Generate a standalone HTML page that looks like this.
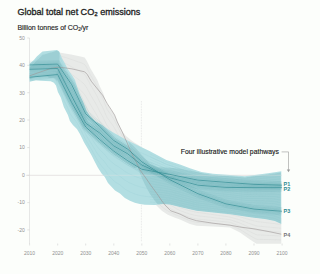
<!DOCTYPE html>
<html><head><meta charset="utf-8">
<style>
html,body{margin:0;padding:0;background:#fcfefb;}
body{width:303px;height:274px;overflow:hidden;}
svg{display:block;}
text{font-family:"Liberation Sans",sans-serif;}
.tk{font-size:5px;fill:#909090;}
</style></head><body>
<svg width="303" height="274" viewBox="0 0 303 274">
<text x="17.4" y="14.9" font-size="9.1" fill="#1e1e1e" stroke="#1e1e1e" stroke-width="0.32" textLength="123" lengthAdjust="spacing">Global total net CO₂ emissions</text>
<text x="17.4" y="29.6" font-size="7.0" fill="#1e1e1e" stroke="#1e1e1e" stroke-width="0.14" textLength="71" lengthAdjust="spacing">Billion tonnes of CO<tspan font-size="4.6" dy="1.6">2</tspan><tspan dy="-1.6">/yr</tspan></text>
<line x1="29.5" y1="38" x2="29.5" y2="244" stroke="#dcdcdc" stroke-width="0.7"/>
<line x1="27.3" y1="38.0" x2="29.5" y2="38.0" stroke="#d0d0d0" stroke-width="0.6"/><text x="24.8" y="39.8" text-anchor="end" class="tk">50</text><line x1="27.3" y1="65.3" x2="29.5" y2="65.3" stroke="#d0d0d0" stroke-width="0.6"/><text x="24.8" y="67.1" text-anchor="end" class="tk">40</text><line x1="27.3" y1="92.7" x2="29.5" y2="92.7" stroke="#d0d0d0" stroke-width="0.6"/><text x="24.8" y="94.5" text-anchor="end" class="tk">30</text><line x1="27.3" y1="120.0" x2="29.5" y2="120.0" stroke="#d0d0d0" stroke-width="0.6"/><text x="24.8" y="121.8" text-anchor="end" class="tk">20</text><line x1="27.3" y1="147.6" x2="29.5" y2="147.6" stroke="#d0d0d0" stroke-width="0.6"/><text x="24.8" y="149.4" text-anchor="end" class="tk">10</text><line x1="27.3" y1="175.3" x2="29.5" y2="175.3" stroke="#d0d0d0" stroke-width="0.6"/><text x="24.8" y="177.10000000000002" text-anchor="end" class="tk">0</text><line x1="27.3" y1="202.6" x2="29.5" y2="202.6" stroke="#d0d0d0" stroke-width="0.6"/><text x="24.8" y="204.4" text-anchor="end" class="tk">-10</text><line x1="27.3" y1="229.9" x2="29.5" y2="229.9" stroke="#d0d0d0" stroke-width="0.6"/><text x="24.8" y="231.70000000000002" text-anchor="end" class="tk">-20</text><line x1="29.6" y1="243.5" x2="29.6" y2="245.5" stroke="#d0d0d0" stroke-width="0.6"/><text x="29.6" y="254.5" text-anchor="middle" class="tk">2010</text><line x1="57.7" y1="243.5" x2="57.7" y2="245.5" stroke="#d0d0d0" stroke-width="0.6"/><text x="57.7" y="254.5" text-anchor="middle" class="tk">2020</text><line x1="85.7" y1="243.5" x2="85.7" y2="245.5" stroke="#d0d0d0" stroke-width="0.6"/><text x="85.7" y="254.5" text-anchor="middle" class="tk">2030</text><line x1="113.8" y1="243.5" x2="113.8" y2="245.5" stroke="#d0d0d0" stroke-width="0.6"/><text x="113.8" y="254.5" text-anchor="middle" class="tk">2040</text><line x1="141.8" y1="243.5" x2="141.8" y2="245.5" stroke="#d0d0d0" stroke-width="0.6"/><text x="141.8" y="254.5" text-anchor="middle" class="tk">2050</text><line x1="169.8" y1="243.5" x2="169.8" y2="245.5" stroke="#d0d0d0" stroke-width="0.6"/><text x="169.8" y="254.5" text-anchor="middle" class="tk">2060</text><line x1="197.9" y1="243.5" x2="197.9" y2="245.5" stroke="#d0d0d0" stroke-width="0.6"/><text x="197.9" y="254.5" text-anchor="middle" class="tk">2070</text><line x1="225.9" y1="243.5" x2="225.9" y2="245.5" stroke="#d0d0d0" stroke-width="0.6"/><text x="225.9" y="254.5" text-anchor="middle" class="tk">2080</text><line x1="254.0" y1="243.5" x2="254.0" y2="245.5" stroke="#d0d0d0" stroke-width="0.6"/><text x="254.0" y="254.5" text-anchor="middle" class="tk">2090</text><line x1="282.1" y1="243.5" x2="282.1" y2="245.5" stroke="#d0d0d0" stroke-width="0.6"/><text x="282.1" y="254.5" text-anchor="middle" class="tk">2100</text>
<line x1="141.4" y1="101" x2="141.4" y2="242" stroke="#d8d8d8" stroke-width="0.6" stroke-dasharray="0.8,0.8"/>
<line x1="26" y1="175.3" x2="281.5" y2="175.3" stroke="#ddd6d6" stroke-width="0.6"/>
<polygon points="29.50,64.00 57.65,52.20 71.10,54.60 81.70,56.70 84.60,57.60 86.60,60.60 88.60,64.50 90.20,68.00 97.30,80.00 99.90,86.60 103.20,93.20 106.60,103.20 110.60,109.20 113.90,114.00 117.30,121.20 122.00,131.30 126.00,136.00 129.90,139.20 133.90,142.20 138.50,144.90 145.00,150.00 157.00,180.00 180.00,200.00 230.00,210.00 281.30,218.00 281.30,243.70 256.50,243.70 249.90,239.60 240.00,232.50 230.00,227.60 213.00,226.60 196.50,225.70 189.90,224.00 180.00,219.40 175.00,217.80 167.80,214.80 161.80,210.80 156.00,205.00 140.00,195.00 100.00,150.00 60.00,84.00 29.50,74.00" fill="#e8eae8"/>
<polyline points="57.7,55.3 59.2,55.6 60.7,56.0 62.2,56.5 63.7,57.0 65.2,57.5 66.7,57.9 68.2,58.4 69.7,58.9 71.2,59.4 72.7,59.9 74.2,60.4 75.7,61.0 77.2,61.5 78.7,62.0 80.2,62.5 81.7,63.0 83.2,63.7 84.7,64.5 86.2,66.7 87.7,69.4 89.2,72.4 90.7,75.4 92.2,78.0 93.7,80.5 95.2,83.0 96.7,85.5 98.2,88.8 99.7,92.4 101.2,95.4 102.7,98.3 104.2,102.0 105.7,106.1 107.2,109.5 108.7,111.7 110.2,113.9 111.7,116.0 113.2,118.2 114.7,120.8 116.2,123.8 117.7,126.8 119.2,129.9 120.7,133.0 122.2,135.9 123.7,137.6 125.2,139.4 126.7,140.9 128.2,142.2 129.7,143.5 131.2,144.7 132.7,145.8 134.2,147.0 135.7,147.9 137.2,148.9 138.7,149.9 140.2,151.1 141.7,152.3 143.2,153.4 144.7,154.6 146.2,157.6 147.7,161.1 149.2,164.5 150.7,168.0 152.2,171.5 153.7,174.9 155.2,178.4 156.7,181.9 158.2,183.7 159.7,185.0 161.2,186.3 162.7,187.6 164.2,188.9 165.7,190.1 167.2,191.4 168.7,192.7 170.2,193.9 171.7,195.1 173.2,196.4 174.7,197.6 176.2,198.8 177.7,200.1 179.2,201.3 180.7,202.1 182.2,202.4 183.7,202.8 185.2,203.1 186.7,203.5 188.2,203.8 189.7,204.1 191.2,204.4 192.7,204.8 194.2,205.1 195.7,205.4 197.2,205.7 198.7,205.9 200.2,206.2 201.7,206.5 203.2,206.8 204.7,207.1 206.2,207.3 207.7,207.6 209.2,207.9 210.7,208.2 212.2,208.5 213.7,208.7 215.2,209.0 216.7,209.3 218.2,209.6 219.7,209.8 221.2,210.1 222.7,210.4 224.2,210.7 225.7,211.0 227.2,211.2 228.7,211.5 230.2,211.8 231.7,212.1 233.2,212.4 234.7,212.6 236.2,212.9 237.7,213.2 239.2,213.5 240.7,213.8 242.2,214.1 243.7,214.4 245.2,214.8 246.7,215.1 248.2,215.4 249.7,215.7 251.2,216.0 252.7,216.3 254.2,216.6 255.7,216.9 257.2,217.2 258.7,217.4 260.2,217.6 261.7,217.8 263.2,218.0 264.7,218.2 266.2,218.5 267.7,218.7 269.2,218.9 270.7,219.1 272.2,219.3 273.7,219.5 275.2,219.7 276.7,219.9 278.2,220.1 279.7,220.3 281.2,220.6" fill="none" stroke="#b0b0b0" stroke-opacity="0.22" stroke-width="0.5"/><polyline points="57.7,60.0 59.2,60.3 60.7,60.8 62.2,61.7 63.7,62.5 65.2,63.3 66.7,64.1 68.2,64.9 69.7,65.8 71.2,66.6 72.7,67.4 74.2,68.3 75.7,69.1 77.2,70.0 78.7,70.8 80.2,71.6 81.7,72.5 83.2,73.4 84.7,74.5 86.2,76.8 87.7,79.5 89.2,82.4 90.7,85.3 92.2,87.8 93.7,90.3 95.2,92.9 96.7,95.4 98.2,98.5 99.7,101.9 101.2,104.7 102.7,107.4 104.2,110.8 105.7,114.5 107.2,117.6 108.7,119.7 110.2,121.8 111.7,123.9 113.2,125.9 114.7,128.4 116.2,131.2 117.7,134.0 119.2,136.9 120.7,139.7 122.2,142.4 123.7,144.1 125.2,145.9 126.7,147.4 128.2,148.8 129.7,150.1 131.2,151.4 132.7,152.7 134.2,153.9 135.7,155.0 137.2,156.1 138.7,157.2 140.2,158.5 141.7,159.6 143.2,160.7 144.7,161.8 146.2,164.5 147.7,167.5 149.2,170.6 150.7,173.6 152.2,176.7 153.7,179.7 155.2,182.7 156.7,185.9 158.2,187.6 159.7,188.9 161.2,190.3 162.7,191.6 164.2,192.8 165.7,194.0 167.2,195.3 168.7,196.4 170.2,197.6 171.7,198.7 173.2,199.8 174.7,201.0 176.2,202.1 177.7,203.2 179.2,204.3 180.7,205.0 182.2,205.4 183.7,205.8 185.2,206.2 186.7,206.6 188.2,207.0 189.7,207.4 191.2,207.8 192.7,208.1 194.2,208.4 195.7,208.7 197.2,209.0 198.7,209.3 200.2,209.5 201.7,209.8 203.2,210.0 204.7,210.2 206.2,210.5 207.7,210.7 209.2,211.0 210.7,211.2 212.2,211.5 213.7,211.7 215.2,212.0 216.7,212.2 218.2,212.5 219.7,212.7 221.2,213.0 222.7,213.2 224.2,213.4 225.7,213.7 227.2,213.9 228.7,214.2 230.2,214.4 231.7,214.8 233.2,215.2 234.7,215.5 236.2,215.9 237.7,216.2 239.2,216.6 240.7,217.0 242.2,217.4 243.7,217.9 245.2,218.3 246.7,218.8 248.2,219.2 249.7,219.7 251.2,220.1 252.7,220.5 254.2,220.9 255.7,221.3 257.2,221.6 258.7,221.8 260.2,222.0 261.7,222.1 263.2,222.3 264.7,222.5 266.2,222.7 267.7,222.8 269.2,223.0 270.7,223.2 272.2,223.4 273.7,223.5 275.2,223.7 276.7,223.9 278.2,224.1 279.7,224.2 281.2,224.4" fill="none" stroke="#b0b0b0" stroke-opacity="0.22" stroke-width="0.5"/><polyline points="57.7,64.6 59.2,65.0 60.7,65.7 62.2,66.9 63.7,68.0 65.2,69.2 66.7,70.3 68.2,71.5 69.7,72.6 71.2,73.8 72.7,74.9 74.2,76.1 75.7,77.3 77.2,78.4 78.7,79.6 80.2,80.8 81.7,81.9 83.2,83.2 84.7,84.6 86.2,86.9 87.7,89.5 89.2,92.4 90.7,95.2 92.2,97.7 93.7,100.2 95.2,102.7 96.7,105.2 98.2,108.2 99.7,111.5 101.2,114.1 102.7,116.5 104.2,119.6 105.7,122.9 107.2,125.7 108.7,127.7 110.2,129.8 111.7,131.7 113.2,133.7 114.7,136.0 116.2,138.6 117.7,141.2 119.2,143.8 120.7,146.4 122.2,148.9 123.7,150.6 125.2,152.4 126.7,154.0 128.2,155.4 129.7,156.8 131.2,158.1 132.7,159.5 134.2,160.8 135.7,162.0 137.2,163.2 138.7,164.4 140.2,165.8 141.7,166.9 143.2,168.0 144.7,169.0 146.2,171.3 147.7,174.0 149.2,176.6 150.7,179.2 152.2,181.8 153.7,184.5 155.2,187.1 156.7,189.8 158.2,191.5 159.7,192.9 161.2,194.3 162.7,195.5 164.2,196.7 165.7,197.9 167.2,199.1 168.7,200.2 170.2,201.2 171.7,202.2 173.2,203.3 174.7,204.3 176.2,205.3 177.7,206.3 179.2,207.2 180.7,208.0 182.2,208.4 183.7,208.9 185.2,209.4 186.7,209.8 188.2,210.3 189.7,210.7 191.2,211.1 192.7,211.4 194.2,211.7 195.7,212.1 197.2,212.4 198.7,212.6 200.2,212.8 201.7,213.0 203.2,213.2 204.7,213.4 206.2,213.6 207.7,213.8 209.2,214.1 210.7,214.3 212.2,214.5 213.7,214.7 215.2,214.9 216.7,215.1 218.2,215.3 219.7,215.6 221.2,215.8 222.7,216.0 224.2,216.2 225.7,216.4 227.2,216.6 228.7,216.9 230.2,217.1 231.7,217.5 233.2,218.0 234.7,218.4 236.2,218.8 237.7,219.3 239.2,219.7 240.7,220.2 242.2,220.8 243.7,221.3 245.2,221.9 246.7,222.5 248.2,223.1 249.7,223.6 251.2,224.1 252.7,224.7 254.2,225.2 255.7,225.7 257.2,226.0 258.7,226.2 260.2,226.3 261.7,226.4 263.2,226.6 264.7,226.7 266.2,226.9 267.7,227.0 269.2,227.1 270.7,227.3 272.2,227.4 273.7,227.6 275.2,227.7 276.7,227.8 278.2,228.0 279.7,228.1 281.2,228.3" fill="none" stroke="#b0b0b0" stroke-opacity="0.22" stroke-width="0.5"/><polyline points="57.7,69.3 59.2,69.7 60.7,70.6 62.2,72.1 63.7,73.5 65.2,75.0 66.7,76.5 68.2,78.0 69.7,79.5 71.2,80.9 72.7,82.4 74.2,83.9 75.7,85.4 77.2,86.9 78.7,88.4 80.2,89.9 81.7,91.4 83.2,93.0 84.7,94.6 86.2,97.0 87.7,99.6 89.2,102.3 90.7,105.0 92.2,107.5 93.7,110.0 95.2,112.5 96.7,115.0 98.2,117.9 99.7,121.0 101.2,123.4 102.7,125.7 104.2,128.4 105.7,131.3 107.2,133.8 108.7,135.7 110.2,137.7 111.7,139.6 113.2,141.5 114.7,143.7 116.2,146.0 117.7,148.4 119.2,150.8 120.7,153.1 122.2,155.4 123.7,157.1 125.2,158.9 126.7,160.5 128.2,162.0 129.7,163.4 131.2,164.9 132.7,166.3 134.2,167.7 135.7,169.1 137.2,170.4 138.7,171.7 140.2,173.1 141.7,174.2 143.2,175.2 144.7,176.3 146.2,178.2 147.7,180.4 149.2,182.6 150.7,184.8 152.2,187.0 153.7,189.2 155.2,191.4 156.7,193.8 158.2,195.4 159.7,196.8 161.2,198.3 162.7,199.5 164.2,200.6 165.7,201.8 167.2,202.9 168.7,203.9 170.2,204.9 171.7,205.8 173.2,206.7 174.7,207.6 176.2,208.5 177.7,209.4 179.2,210.2 180.7,210.9 182.2,211.4 183.7,211.9 185.2,212.5 186.7,213.0 188.2,213.5 189.7,214.0 191.2,214.4 192.7,214.7 194.2,215.1 195.7,215.4 197.2,215.7 198.7,215.9 200.2,216.1 201.7,216.2 203.2,216.4 204.7,216.6 206.2,216.8 207.7,217.0 209.2,217.1 210.7,217.3 212.2,217.5 213.7,217.7 215.2,217.9 216.7,218.1 218.2,218.2 219.7,218.4 221.2,218.6 222.7,218.8 224.2,219.0 225.7,219.2 227.2,219.3 228.7,219.5 230.2,219.7 231.7,220.3 233.2,220.8 234.7,221.3 236.2,221.8 237.7,222.3 239.2,222.8 240.7,223.4 242.2,224.1 243.7,224.8 245.2,225.5 246.7,226.2 248.2,226.9 249.7,227.6 251.2,228.2 252.7,228.8 254.2,229.4 255.7,230.1 257.2,230.4 258.7,230.5 260.2,230.7 261.7,230.8 263.2,230.9 264.7,231.0 266.2,231.1 267.7,231.2 269.2,231.3 270.7,231.4 272.2,231.5 273.7,231.6 275.2,231.7 276.7,231.8 278.2,231.9 279.7,232.0 281.2,232.1" fill="none" stroke="#b0b0b0" stroke-opacity="0.22" stroke-width="0.5"/><polyline points="57.7,73.9 59.2,74.4 60.7,75.4 62.2,77.2 63.7,79.1 65.2,80.9 66.7,82.7 68.2,84.5 69.7,86.3 71.2,88.1 72.7,89.9 74.2,91.8 75.7,93.6 77.2,95.4 78.7,97.2 80.2,99.1 81.7,100.9 83.2,102.7 84.7,104.7 86.2,107.1 87.7,109.6 89.2,112.3 90.7,114.9 92.2,117.4 93.7,119.9 95.2,122.4 96.7,124.9 98.2,127.6 99.7,130.5 101.2,132.7 102.7,134.8 104.2,137.1 105.7,139.7 107.2,141.9 108.7,143.8 110.2,145.6 111.7,147.5 113.2,149.3 114.7,151.3 116.2,153.4 117.7,155.6 119.2,157.7 120.7,159.9 122.2,161.9 123.7,163.7 125.2,165.4 126.7,167.0 128.2,168.5 129.7,170.1 131.2,171.6 132.7,173.1 134.2,174.6 135.7,176.1 137.2,177.5 138.7,179.0 140.2,180.5 141.7,181.5 143.2,182.5 144.7,183.5 146.2,185.1 147.7,186.9 149.2,188.7 150.7,190.5 152.2,192.2 153.7,194.0 155.2,195.8 156.7,197.8 158.2,199.4 159.7,200.8 161.2,202.2 162.7,203.5 164.2,204.6 165.7,205.6 167.2,206.7 168.7,207.7 170.2,208.5 171.7,209.3 173.2,210.2 174.7,211.0 176.2,211.7 177.7,212.5 179.2,213.2 180.7,213.8 182.2,214.4 183.7,215.0 185.2,215.6 186.7,216.2 188.2,216.7 189.7,217.3 191.2,217.7 192.7,218.1 194.2,218.4 195.7,218.8 197.2,219.0 198.7,219.2 200.2,219.3 201.7,219.5 203.2,219.6 204.7,219.8 206.2,219.9 207.7,220.1 209.2,220.2 210.7,220.4 212.2,220.5 213.7,220.7 215.2,220.8 216.7,221.0 218.2,221.1 219.7,221.3 221.2,221.4 222.7,221.6 224.2,221.7 225.7,221.9 227.2,222.0 228.7,222.2 230.2,222.4 231.7,223.0 233.2,223.6 234.7,224.2 236.2,224.7 237.7,225.3 239.2,225.9 240.7,226.6 242.2,227.4 243.7,228.2 245.2,229.1 246.7,229.9 248.2,230.7 249.7,231.5 251.2,232.3 252.7,233.0 254.2,233.7 255.7,234.4 257.2,234.9 258.7,234.9 260.2,235.0 261.7,235.1 263.2,235.1 264.7,235.2 266.2,235.3 267.7,235.4 269.2,235.4 270.7,235.5 272.2,235.6 273.7,235.6 275.2,235.7 276.7,235.8 278.2,235.8 279.7,235.9 281.2,236.0" fill="none" stroke="#b0b0b0" stroke-opacity="0.22" stroke-width="0.5"/><polyline points="57.7,78.6 59.2,79.0 60.7,80.3 62.2,82.4 63.7,84.6 65.2,86.7 66.7,88.9 68.2,91.0 69.7,93.2 71.2,95.3 72.7,97.4 74.2,99.6 75.7,101.7 77.2,103.9 78.7,106.0 80.2,108.2 81.7,110.3 83.2,112.5 84.7,114.7 86.2,117.1 87.7,119.7 89.2,122.2 90.7,124.8 92.2,127.3 93.7,129.8 95.2,132.2 96.7,134.7 98.2,137.3 99.7,140.0 101.2,142.0 102.7,143.9 104.2,145.9 105.7,148.0 107.2,150.0 108.7,151.8 110.2,153.5 111.7,155.3 113.2,157.1 114.7,158.9 116.2,160.8 117.7,162.7 119.2,164.7 120.7,166.6 122.2,168.5 123.7,170.2 125.2,171.9 126.7,173.5 128.2,175.1 129.7,176.8 131.2,178.4 132.7,180.0 134.2,181.6 135.7,183.1 137.2,184.7 138.7,186.3 140.2,187.8 141.7,188.8 143.2,189.7 144.7,190.7 146.2,192.0 147.7,193.4 149.2,194.7 150.7,196.1 152.2,197.4 153.7,198.8 155.2,200.2 156.7,201.7 158.2,203.3 159.7,204.7 161.2,206.2 162.7,207.4 164.2,208.5 165.7,209.5 167.2,210.6 168.7,211.4 170.2,212.2 171.7,212.9 173.2,213.6 174.7,214.3 176.2,215.0 177.7,215.6 179.2,216.2 180.7,216.8 182.2,217.4 183.7,218.1 185.2,218.7 186.7,219.3 188.2,220.0 189.7,220.6 191.2,221.0 192.7,221.4 194.2,221.8 195.7,222.1 197.2,222.4 198.7,222.5 200.2,222.6 201.7,222.7 203.2,222.9 204.7,223.0 206.2,223.1 207.7,223.2 209.2,223.3 210.7,223.4 212.2,223.5 213.7,223.7 215.2,223.8 216.7,223.9 218.2,224.0 219.7,224.1 221.2,224.3 222.7,224.4 224.2,224.5 225.7,224.6 227.2,224.7 228.7,224.9 230.2,225.0 231.7,225.7 233.2,226.4 234.7,227.0 236.2,227.7 237.7,228.3 239.2,229.0 240.7,229.8 242.2,230.8 243.7,231.7 245.2,232.7 246.7,233.6 248.2,234.5 249.7,235.5 251.2,236.3 252.7,237.2 254.2,238.0 255.7,238.8 257.2,239.3 258.7,239.3 260.2,239.4 261.7,239.4 263.2,239.4 264.7,239.5 266.2,239.5 267.7,239.5 269.2,239.6 270.7,239.6 272.2,239.6 273.7,239.7 275.2,239.7 276.7,239.7 278.2,239.8 279.7,239.8 281.2,239.8" fill="none" stroke="#b0b0b0" stroke-opacity="0.22" stroke-width="0.5"/>
<polygon points="29.50,64.00 33.90,60.00 36.80,56.50 42.50,51.60 57.00,49.90 59.20,51.60 61.90,58.00 65.20,63.90 67.80,69.20 72.00,75.20 75.00,80.00 77.50,88.00 79.50,94.00 83.20,101.90 86.30,110.50 89.90,115.90 95.20,121.20 102.00,125.00 107.90,129.30 114.50,133.20 118.60,135.50 125.20,139.30 131.90,142.50 138.50,145.80 143.20,148.00 150.00,151.30 153.20,153.00 166.40,159.90 180.00,164.50 189.90,168.30 201.50,172.00 213.00,173.80 230.00,175.00 244.90,176.30 254.80,174.90 268.00,173.20 281.30,171.20 281.30,223.90 274.80,220.90 264.90,219.00 252.00,217.50 230.00,214.20 213.00,212.40 196.50,210.80 180.00,207.00 169.90,204.60 162.80,204.00 154.90,204.90 145.00,204.80 139.80,204.10 134.80,202.80 129.90,200.80 124.90,197.90 120.00,193.40 115.00,190.40 108.00,183.00 104.80,177.00 101.80,173.80 97.90,167.80 94.90,161.90 91.90,155.90 88.50,150.00 83.80,142.00 82.80,139.80 79.80,133.80 76.90,128.90 72.90,124.90 69.90,120.90 67.90,115.00 63.80,107.00 60.90,97.80 57.90,91.90 56.00,85.50 53.90,82.80 50.80,81.30 40.90,80.80 35.90,80.30 29.50,81.80" fill="#b2dee2"/>
<polyline points="29.5,65.8 31.0,64.5 32.5,63.3 34.0,62.0 35.5,60.3 37.0,58.7 38.5,57.6 40.0,56.4 41.5,55.3 43.0,54.5 44.5,54.3 46.0,54.2 47.5,54.0 49.0,53.9 50.5,53.7 52.0,53.6 53.5,53.5 55.0,53.5 56.5,53.7 58.0,54.8 59.5,56.6 61.0,60.1 62.5,63.5 64.0,66.3 65.5,69.1 67.0,72.1 68.5,74.9 70.0,77.2 71.5,79.3 73.0,81.6 74.5,83.9 76.0,87.7 77.5,92.2 79.0,96.5 80.5,100.0 82.0,103.2 83.5,106.6 85.0,110.6 86.5,114.4 88.0,116.7 89.5,118.9 91.0,120.7 92.5,122.4 94.0,124.0 95.5,125.5 97.0,126.6 98.5,127.6 100.0,128.6 101.5,129.6 103.0,130.7 104.5,131.8 106.0,133.0 107.5,134.3 109.0,135.4 110.5,136.3 112.0,137.3 113.5,138.2 115.0,139.2 116.5,140.0 118.0,140.9 119.5,141.7 121.0,142.6 122.5,143.5 124.0,144.5 125.5,145.3 127.0,146.1 128.5,146.8 130.0,147.5 131.5,148.2 133.0,149.0 134.5,149.7 136.0,150.4 137.5,151.1 139.0,151.8 140.5,152.5 142.0,153.1 143.5,153.8 145.0,154.5 146.5,155.1 148.0,155.8 149.5,156.4 151.0,157.1 152.5,157.9 154.0,158.6 155.5,159.3 157.0,160.0 158.5,160.6 160.0,161.3 161.5,162.0 163.0,162.7 164.5,163.4 166.0,164.1 167.5,164.7 169.0,165.2 170.5,165.6 172.0,166.1 173.5,166.6 175.0,167.1 176.5,167.6 178.0,168.1 179.5,168.6 181.0,169.1 182.5,169.7 184.0,170.2 185.5,170.8 187.0,171.3 188.5,171.9 190.0,172.4 191.5,172.9 193.0,173.4 194.5,173.8 196.0,174.3 197.5,174.7 199.0,175.2 200.5,175.6 202.0,176.0 203.5,176.2 205.0,176.5 206.5,176.7 208.0,176.9 209.5,177.1 211.0,177.4 212.5,177.6 214.0,177.7 215.5,177.8 217.0,178.0 218.5,178.1 220.0,178.2 221.5,178.3 223.0,178.4 224.5,178.5 226.0,178.6 227.5,178.7 229.0,178.8 230.5,179.0 232.0,179.1 233.5,179.2 235.0,179.4 236.5,179.5 238.0,179.7 239.5,179.8 241.0,179.9 242.5,180.1 244.0,180.2 245.5,180.2 247.0,180.1 248.5,179.9 250.0,179.7 251.5,179.6 253.0,179.4 254.5,179.2 256.0,179.1 257.5,178.9 259.0,178.8 260.5,178.6 262.0,178.4 263.5,178.3 265.0,178.1 266.5,178.0 268.0,177.8 269.5,177.7 271.0,177.5 272.5,177.3 274.0,177.1 275.5,177.0 277.0,176.9 278.5,176.7 280.0,176.6" fill="none" stroke="#3f9aa3" stroke-opacity="0.12" stroke-width="0.5"/><polyline points="29.5,67.6 31.0,66.4 32.5,65.2 34.0,64.1 35.5,62.5 37.0,61.1 38.5,60.1 40.0,59.1 41.5,58.1 43.0,57.4 44.5,57.3 46.0,57.2 47.5,57.0 49.0,56.9 50.5,56.8 52.0,56.8 53.5,56.8 55.0,57.0 56.5,57.4 58.0,59.0 59.5,60.9 61.0,64.3 62.5,67.8 64.0,70.9 65.5,73.7 67.0,76.7 68.5,79.5 70.0,82.1 71.5,84.2 73.0,86.4 74.5,88.7 76.0,92.2 77.5,96.4 79.0,100.5 80.5,103.9 82.0,107.1 83.5,110.5 85.0,114.3 86.5,118.0 88.0,120.3 89.5,122.6 91.0,124.5 92.5,126.2 94.0,128.0 95.5,129.7 97.0,131.0 98.5,132.2 100.0,133.3 101.5,134.4 103.0,135.6 104.5,136.8 106.0,138.2 107.5,139.6 109.0,140.8 110.5,141.8 112.0,142.8 113.5,143.9 115.0,144.9 116.5,145.7 118.0,146.6 119.5,147.4 121.0,148.4 122.5,149.3 124.0,150.3 125.5,151.2 127.0,152.0 128.5,152.7 130.0,153.4 131.5,154.1 133.0,154.9 134.5,155.6 136.0,156.3 137.5,156.9 139.0,157.6 140.5,158.2 142.0,158.8 143.5,159.4 145.0,160.1 146.5,160.6 148.0,161.2 149.5,161.8 151.0,162.4 152.5,163.1 154.0,163.7 155.5,164.3 157.0,164.9 158.5,165.5 160.0,166.1 161.5,166.7 163.0,167.3 164.5,168.0 166.0,168.6 167.5,169.1 169.0,169.5 170.5,170.0 172.0,170.5 173.5,170.9 175.0,171.4 176.5,171.9 178.0,172.4 179.5,172.8 181.0,173.4 182.5,173.9 184.0,174.4 185.5,174.9 187.0,175.5 188.5,176.0 190.0,176.5 191.5,177.0 193.0,177.4 194.5,177.9 196.0,178.3 197.5,178.8 199.0,179.2 200.5,179.6 202.0,179.9 203.5,180.1 205.0,180.4 206.5,180.6 208.0,180.8 209.5,181.0 211.0,181.2 212.5,181.4 214.0,181.6 215.5,181.7 217.0,181.8 218.5,181.9 220.0,182.1 221.5,182.2 223.0,182.3 224.5,182.4 226.0,182.5 227.5,182.6 229.0,182.8 230.5,182.9 232.0,183.0 233.5,183.2 235.0,183.3 236.5,183.5 238.0,183.6 239.5,183.8 241.0,183.9 242.5,184.1 244.0,184.2 245.5,184.3 247.0,184.2 248.5,184.0 250.0,183.9 251.5,183.8 253.0,183.6 254.5,183.5 256.0,183.4 257.5,183.3 259.0,183.2 260.5,183.0 262.0,182.9 263.5,182.8 265.0,182.7 266.5,182.6 268.0,182.5 269.5,182.4 271.0,182.2 272.5,182.1 274.0,182.0 275.5,181.9 277.0,181.9 278.5,181.8 280.0,181.8" fill="none" stroke="#3f9aa3" stroke-opacity="0.12" stroke-width="0.5"/><polyline points="29.5,69.3 31.0,68.3 32.5,67.2 34.0,66.1 35.5,64.8 37.0,63.6 38.5,62.7 40.0,61.8 41.5,61.0 43.0,60.4 44.5,60.3 46.0,60.2 47.5,60.0 49.0,59.9 50.5,59.8 52.0,59.9 53.5,60.0 55.0,60.4 56.5,61.1 58.0,63.1 59.5,65.1 61.0,68.5 62.5,72.2 64.0,75.4 65.5,78.3 67.0,81.3 68.5,84.2 70.0,87.0 71.5,89.1 73.0,91.3 74.5,93.4 76.0,96.6 77.5,100.6 79.0,104.5 80.5,107.9 82.0,111.0 83.5,114.3 85.0,118.0 86.5,121.5 88.0,123.9 89.5,126.2 91.0,128.2 92.5,130.1 94.0,132.0 95.5,133.9 97.0,135.4 98.5,136.7 100.0,138.0 101.5,139.3 103.0,140.5 104.5,141.8 106.0,143.3 107.5,144.9 109.0,146.2 110.5,147.3 112.0,148.4 113.5,149.5 115.0,150.6 116.5,151.4 118.0,152.3 119.5,153.1 121.0,154.1 122.5,155.1 124.0,156.1 125.5,157.1 127.0,157.8 128.5,158.6 130.0,159.4 131.5,160.1 133.0,160.8 134.5,161.5 136.0,162.1 137.5,162.8 139.0,163.4 140.5,164.0 142.0,164.5 143.5,165.1 145.0,165.7 146.5,166.2 148.0,166.7 149.5,167.2 151.0,167.7 152.5,168.3 154.0,168.9 155.5,169.4 157.0,169.9 158.5,170.4 160.0,170.9 161.5,171.4 163.0,171.9 164.5,172.5 166.0,173.1 167.5,173.5 169.0,173.9 170.5,174.3 172.0,174.8 173.5,175.2 175.0,175.7 176.5,176.2 178.0,176.6 179.5,177.1 181.0,177.6 182.5,178.1 184.0,178.6 185.5,179.1 187.0,179.6 188.5,180.1 190.0,180.6 191.5,181.1 193.0,181.5 194.5,181.9 196.0,182.4 197.5,182.8 199.0,183.2 200.5,183.5 202.0,183.9 203.5,184.1 205.0,184.3 206.5,184.5 208.0,184.7 209.5,184.9 211.0,185.1 212.5,185.3 214.0,185.5 215.5,185.6 217.0,185.7 218.5,185.8 220.0,185.9 221.5,186.1 223.0,186.2 224.5,186.3 226.0,186.4 227.5,186.6 229.0,186.7 230.5,186.8 232.0,187.0 233.5,187.1 235.0,187.3 236.5,187.4 238.0,187.6 239.5,187.8 241.0,187.9 242.5,188.1 244.0,188.2 245.5,188.3 247.0,188.2 248.5,188.1 250.0,188.1 251.5,188.0 253.0,187.9 254.5,187.8 256.0,187.7 257.5,187.6 259.0,187.5 260.5,187.5 262.0,187.4 263.5,187.3 265.0,187.2 266.5,187.2 268.0,187.1 269.5,187.0 271.0,187.0 272.5,186.9 274.0,186.8 275.5,186.8 277.0,186.9 278.5,186.9 280.0,187.0" fill="none" stroke="#3f9aa3" stroke-opacity="0.12" stroke-width="0.5"/><polyline points="29.5,71.5 31.0,70.5 32.5,69.6 34.0,68.6 35.5,67.4 37.0,66.4 38.5,65.8 40.0,65.1 41.5,64.4 43.0,63.9 44.5,63.8 46.0,63.7 47.5,63.7 49.0,63.6 50.5,63.5 52.0,63.7 53.5,63.9 55.0,64.4 56.5,65.6 58.0,68.1 59.5,70.3 61.0,73.6 62.5,77.5 64.0,80.9 65.5,83.7 67.0,86.8 68.5,89.8 70.0,92.8 71.5,94.9 73.0,97.0 74.5,99.1 76.0,102.0 77.5,105.6 79.0,109.3 80.5,112.5 82.0,115.7 83.5,118.9 85.0,122.5 86.5,125.8 88.0,128.2 89.5,130.6 91.0,132.7 92.5,134.7 94.0,136.8 95.5,138.9 97.0,140.6 98.5,142.2 100.0,143.7 101.5,145.1 103.0,146.5 104.5,147.8 106.0,149.5 107.5,151.3 109.0,152.7 110.5,153.9 112.0,155.0 113.5,156.2 115.0,157.4 116.5,158.3 118.0,159.1 119.5,160.0 121.0,161.0 122.5,162.1 124.0,163.2 125.5,164.1 127.0,164.9 128.5,165.7 130.0,166.5 131.5,167.1 133.0,167.8 134.5,168.5 136.0,169.1 137.5,169.7 139.0,170.3 140.5,170.9 142.0,171.4 143.5,171.9 145.0,172.4 146.5,172.8 148.0,173.2 149.5,173.6 151.0,174.1 152.5,174.6 154.0,175.0 155.5,175.5 157.0,175.8 158.5,176.2 160.0,176.6 161.5,177.0 163.0,177.4 164.5,177.9 166.0,178.4 167.5,178.8 169.0,179.2 170.5,179.5 172.0,180.0 173.5,180.4 175.0,180.9 176.5,181.3 178.0,181.8 179.5,182.2 181.0,182.7 182.5,183.1 184.0,183.6 185.5,184.1 187.0,184.6 188.5,185.1 190.0,185.5 191.5,186.0 193.0,186.4 194.5,186.8 196.0,187.2 197.5,187.6 199.0,187.9 200.5,188.3 202.0,188.6 203.5,188.8 205.0,189.0 206.5,189.2 208.0,189.4 209.5,189.6 211.0,189.7 212.5,189.9 214.0,190.1 215.5,190.2 217.0,190.4 218.5,190.5 220.0,190.6 221.5,190.7 223.0,190.9 224.5,191.0 226.0,191.1 227.5,191.3 229.0,191.4 230.5,191.5 232.0,191.7 233.5,191.9 235.0,192.0 236.5,192.2 238.0,192.4 239.5,192.5 241.0,192.7 242.5,192.9 244.0,193.1 245.5,193.1 247.0,193.1 248.5,193.1 250.0,193.1 251.5,193.0 253.0,193.0 254.5,192.9 256.0,192.9 257.5,192.9 259.0,192.8 260.5,192.8 262.0,192.7 263.5,192.7 265.0,192.7 266.5,192.7 268.0,192.7 269.5,192.7 271.0,192.7 272.5,192.7 274.0,192.6 275.5,192.7 277.0,192.9 278.5,193.0 280.0,193.2" fill="none" stroke="#3f9aa3" stroke-opacity="0.12" stroke-width="0.5"/><polyline points="29.5,73.8 31.0,73.0 32.5,72.2 34.0,71.4 35.5,70.3 37.0,69.6 38.5,69.1 40.0,68.6 41.5,68.1 43.0,67.7 44.5,67.7 46.0,67.6 47.5,67.6 49.0,67.5 50.5,67.5 52.0,67.8 53.5,68.1 55.0,68.9 56.5,70.4 58.0,73.5 59.5,75.8 61.0,79.1 62.5,83.2 64.0,86.9 65.5,89.7 67.0,92.7 68.5,95.8 70.0,99.1 71.5,101.2 73.0,103.3 74.5,105.2 76.0,107.8 77.5,111.1 79.0,114.5 80.5,117.6 82.0,120.7 83.5,124.0 85.0,127.3 86.5,130.5 88.0,132.9 89.5,135.3 91.0,137.5 92.5,139.7 94.0,142.1 95.5,144.3 97.0,146.3 98.5,148.2 100.0,149.8 101.5,151.5 103.0,152.9 104.5,154.2 106.0,156.1 107.5,158.2 109.0,159.7 110.5,161.0 112.0,162.3 113.5,163.5 115.0,164.8 116.5,165.7 118.0,166.5 119.5,167.4 121.0,168.5 122.5,169.6 124.0,170.8 125.5,171.8 127.0,172.6 128.5,173.4 130.0,174.2 131.5,174.8 133.0,175.5 134.5,176.2 136.0,176.8 137.5,177.3 139.0,177.9 140.5,178.3 142.0,178.8 143.5,179.2 145.0,179.6 146.5,180.0 148.0,180.3 149.5,180.6 151.0,181.0 152.5,181.4 154.0,181.7 155.5,182.0 157.0,182.3 158.5,182.6 160.0,182.8 161.5,183.1 163.0,183.4 164.5,183.8 166.0,184.2 167.5,184.5 169.0,184.8 170.5,185.2 172.0,185.6 173.5,186.0 175.0,186.5 176.5,186.9 178.0,187.3 179.5,187.7 181.0,188.2 182.5,188.6 184.0,189.1 185.5,189.5 187.0,190.0 188.5,190.4 190.0,190.9 191.5,191.3 193.0,191.7 194.5,192.1 196.0,192.5 197.5,192.8 199.0,193.1 200.5,193.4 202.0,193.7 203.5,193.9 205.0,194.0 206.5,194.2 208.0,194.4 209.5,194.6 211.0,194.8 212.5,195.0 214.0,195.1 215.5,195.3 217.0,195.4 218.5,195.5 220.0,195.7 221.5,195.8 223.0,195.9 224.5,196.1 226.0,196.2 227.5,196.3 229.0,196.5 230.5,196.6 232.0,196.8 233.5,197.0 235.0,197.2 236.5,197.4 238.0,197.5 239.5,197.7 241.0,197.9 242.5,198.1 244.0,198.3 245.5,198.4 247.0,198.4 248.5,198.4 250.0,198.5 251.5,198.5 253.0,198.5 254.5,198.5 256.0,198.5 257.5,198.5 259.0,198.5 260.5,198.5 262.0,198.6 263.5,198.6 265.0,198.6 266.5,198.6 268.0,198.7 269.5,198.8 271.0,198.8 272.5,198.9 274.0,198.9 275.5,199.1 277.0,199.4 278.5,199.7 280.0,199.9" fill="none" stroke="#3f9aa3" stroke-opacity="0.12" stroke-width="0.5"/><polyline points="29.5,76.5 31.0,75.8 32.5,75.1 34.0,74.5 35.5,73.7 37.0,73.2 38.5,72.9 40.0,72.6 41.5,72.3 43.0,72.1 44.5,72.1 46.0,72.1 47.5,72.1 49.0,72.1 50.5,72.1 52.0,72.5 53.5,72.9 55.0,74.0 56.5,76.0 58.0,79.7 59.5,82.2 61.0,85.4 62.5,89.7 64.0,93.7 65.5,96.6 67.0,99.5 68.5,102.8 70.0,106.4 71.5,108.5 73.0,110.5 74.5,112.3 76.0,114.6 77.5,117.3 79.0,120.5 80.5,123.5 82.0,126.5 83.5,129.8 85.0,132.9 86.5,135.9 88.0,138.3 89.5,140.8 91.0,143.1 92.5,145.5 94.0,148.1 95.5,150.6 97.0,152.9 98.5,155.0 100.0,156.9 101.5,158.8 103.0,160.3 104.5,161.7 106.0,163.8 107.5,166.1 109.0,167.8 110.5,169.2 112.0,170.6 113.5,172.0 115.0,173.3 116.5,174.2 118.0,175.1 119.5,176.0 121.0,177.1 122.5,178.3 124.0,179.5 125.5,180.6 127.0,181.4 128.5,182.3 130.0,183.1 131.5,183.7 133.0,184.4 134.5,185.0 136.0,185.5 137.5,186.0 139.0,186.5 140.5,187.0 142.0,187.3 143.5,187.7 145.0,188.0 146.5,188.3 148.0,188.5 149.5,188.7 151.0,189.0 152.5,189.2 154.0,189.4 155.5,189.6 157.0,189.8 158.5,189.9 160.0,190.0 161.5,190.1 163.0,190.2 164.5,190.6 166.0,190.9 167.5,191.2 169.0,191.4 170.5,191.7 172.0,192.1 173.5,192.5 175.0,192.9 176.5,193.3 178.0,193.7 179.5,194.1 181.0,194.5 182.5,194.9 184.0,195.4 185.5,195.8 187.0,196.2 188.5,196.6 190.0,197.0 191.5,197.4 193.0,197.8 194.5,198.2 196.0,198.6 197.5,198.8 199.0,199.1 200.5,199.3 202.0,199.6 203.5,199.7 205.0,199.9 206.5,200.1 208.0,200.2 209.5,200.4 211.0,200.6 212.5,200.8 214.0,200.9 215.5,201.1 217.0,201.2 218.5,201.3 220.0,201.5 221.5,201.6 223.0,201.8 224.5,201.9 226.0,202.1 227.5,202.2 229.0,202.3 230.5,202.5 232.0,202.7 233.5,202.9 235.0,203.1 236.5,203.3 238.0,203.5 239.5,203.7 241.0,203.9 242.5,204.1 244.0,204.3 245.5,204.4 247.0,204.5 248.5,204.6 250.0,204.7 251.5,204.8 253.0,204.9 254.5,204.9 256.0,205.0 257.5,205.1 259.0,205.1 260.5,205.2 262.0,205.3 263.5,205.3 265.0,205.4 266.5,205.5 268.0,205.7 269.5,205.8 271.0,205.9 272.5,206.1 274.0,206.2 275.5,206.5 277.0,206.9 278.5,207.3 280.0,207.7" fill="none" stroke="#3f9aa3" stroke-opacity="0.12" stroke-width="0.5"/><polyline points="29.5,79.1 31.0,78.6 32.5,78.1 34.0,77.6 35.5,77.0 37.0,76.8 38.5,76.7 40.0,76.7 41.5,76.6 43.0,76.5 44.5,76.5 46.0,76.6 47.5,76.6 49.0,76.7 50.5,76.7 52.0,77.2 53.5,77.8 55.0,79.1 56.5,81.6 58.0,85.9 59.5,88.6 61.0,91.8 62.5,96.3 64.0,100.5 65.5,103.4 67.0,106.4 68.5,109.8 70.0,113.7 71.5,115.8 73.0,117.8 74.5,119.4 76.0,121.3 77.5,123.6 79.0,126.5 80.5,129.3 82.0,132.4 83.5,135.5 85.0,138.5 86.5,141.2 88.0,143.7 89.5,146.3 91.0,148.7 92.5,151.3 94.0,154.1 95.5,156.8 97.0,159.5 98.5,161.9 100.0,164.0 101.5,166.0 103.0,167.7 104.5,169.2 106.0,171.5 107.5,174.1 109.0,175.9 110.5,177.4 112.0,178.9 113.5,180.4 115.0,181.9 116.5,182.8 118.0,183.6 119.5,184.5 121.0,185.7 122.5,187.0 124.0,188.3 125.5,189.4 127.0,190.3 128.5,191.1 130.0,192.0 131.5,192.6 133.0,193.2 134.5,193.8 136.0,194.3 137.5,194.8 139.0,195.2 140.5,195.6 142.0,195.9 143.5,196.1 145.0,196.4 146.5,196.5 148.0,196.7 149.5,196.8 151.0,196.9 152.5,197.0 154.0,197.2 155.5,197.2 157.0,197.2 158.5,197.2 160.0,197.2 161.5,197.1 163.0,197.1 164.5,197.4 166.0,197.6 167.5,197.8 169.0,198.0 170.5,198.2 172.0,198.6 173.5,199.0 175.0,199.4 176.5,199.7 178.0,200.1 179.5,200.5 181.0,200.9 182.5,201.3 184.0,201.6 185.5,202.0 187.0,202.4 188.5,202.8 190.0,203.2 191.5,203.5 193.0,203.9 194.5,204.3 196.0,204.6 197.5,204.9 199.0,205.1 200.5,205.3 202.0,205.4 203.5,205.6 205.0,205.8 206.5,205.9 208.0,206.1 209.5,206.2 211.0,206.4 212.5,206.6 214.0,206.7 215.5,206.9 217.0,207.0 218.5,207.2 220.0,207.3 221.5,207.5 223.0,207.6 224.5,207.8 226.0,207.9 227.5,208.1 229.0,208.2 230.5,208.4 232.0,208.6 233.5,208.8 235.0,209.0 236.5,209.2 238.0,209.4 239.5,209.7 241.0,209.9 242.5,210.1 244.0,210.3 245.5,210.5 247.0,210.6 248.5,210.8 250.0,211.0 251.5,211.1 253.0,211.2 254.5,211.4 256.0,211.5 257.5,211.6 259.0,211.7 260.5,211.8 262.0,212.0 263.5,212.1 265.0,212.2 266.5,212.4 268.0,212.6 269.5,212.8 271.0,213.1 272.5,213.3 274.0,213.5 275.5,213.9 277.0,214.4 278.5,215.0 280.0,215.5" fill="none" stroke="#3f9aa3" stroke-opacity="0.12" stroke-width="0.5"/><clipPath id="tc"><polygon points="29.50,64.00 33.90,60.00 36.80,56.50 42.50,51.60 57.00,49.90 59.20,51.60 61.90,58.00 65.20,63.90 67.80,69.20 72.00,75.20 75.00,80.00 77.50,88.00 79.50,94.00 83.20,101.90 86.30,110.50 89.90,115.90 95.20,121.20 102.00,125.00 107.90,129.30 114.50,133.20 118.60,135.50 125.20,139.30 131.90,142.50 138.50,145.80 143.20,148.00 150.00,151.30 153.20,153.00 166.40,159.90 180.00,164.50 189.90,168.30 201.50,172.00 213.00,173.80 230.00,175.00 244.90,176.30 254.80,174.90 268.00,173.20 281.30,171.20 281.30,223.90 274.80,220.90 264.90,219.00 252.00,217.50 230.00,214.20 213.00,212.40 196.50,210.80 180.00,207.00 169.90,204.60 162.80,204.00 154.90,204.90 145.00,204.80 139.80,204.10 134.80,202.80 129.90,200.80 124.90,197.90 120.00,193.40 115.00,190.40 108.00,183.00 104.80,177.00 101.80,173.80 97.90,167.80 94.90,161.90 91.90,155.90 88.50,150.00 83.80,142.00 82.80,139.80 79.80,133.80 76.90,128.90 72.90,124.90 69.90,120.90 67.90,115.00 63.80,107.00 60.90,97.80 57.90,91.90 56.00,85.50 53.90,82.80 50.80,81.30 40.90,80.80 35.90,80.30 29.50,81.80"/></clipPath><g clip-path="url(#tc)"><polygon points="128.50,141.71 129.25,142.31 130.00,142.92 130.75,143.55 131.50,144.20 132.25,144.87 133.00,145.57 133.75,146.28 134.50,147.02 135.25,147.77 136.00,148.54 136.75,149.33 137.50,150.14 138.25,150.96 139.00,151.80 139.75,152.65 140.50,153.52 141.25,154.41 142.00,155.28 142.75,156.07 143.50,156.86 144.25,157.67 145.00,158.48 145.75,159.30 146.50,160.12 147.25,160.95 148.00,161.79 148.75,162.64 149.50,163.49 150.25,164.16 151.00,164.47 151.75,164.76 152.50,165.06 153.25,165.36 154.00,165.65 154.75,165.94 155.50,166.22 156.25,166.51 157.00,166.79 157.75,167.07 158.50,167.22 159.25,167.22 160.00,167.22 160.75,167.24 161.50,167.26 162.25,167.29 163.00,167.33 163.75,167.37 164.50,167.43 165.25,167.49 166.00,167.55 166.75,167.61 167.50,167.64 168.25,167.68 169.00,167.72 169.75,167.76 170.50,167.82 171.25,167.88 172.00,167.94 172.75,168.01 173.50,168.08 174.25,168.15 175.00,168.23 175.75,168.30 176.50,168.39 177.25,168.47 178.00,168.56 178.75,168.65 179.50,168.74 180.25,168.84 181.00,168.96 181.75,169.09 182.50,169.22 183.25,169.35 184.00,169.49 184.75,169.63 185.50,169.77 186.25,169.92 187.00,170.08 187.75,170.23 188.50,170.40 189.25,170.56 190.00,170.72 190.75,170.86 191.50,170.99 192.25,171.13 193.00,171.28 193.75,171.42 194.50,171.57 195.25,171.72 196.00,171.87 196.75,172.02 197.50,172.18 198.25,172.34 199.00,172.50 199.75,172.66 200.50,172.88 201.25,173.12 202.00,173.28 202.75,173.40 203.50,173.51 204.25,173.63 205.00,173.75 205.75,173.87 206.50,173.98 207.25,174.10 208.00,174.22 208.75,174.33 209.50,174.45 210.25,174.57 211.00,174.69 211.75,174.80 212.50,174.92 213.25,175.02 214.00,175.07 214.75,175.12 215.50,175.18 216.25,175.23 217.00,175.28 217.75,175.34 218.50,175.39 219.25,175.44 220.00,175.49 220.75,175.55 221.50,175.60 222.25,175.65 223.00,175.71 223.75,175.76 224.50,175.81 225.25,175.86 226.00,175.92 226.75,175.97 227.50,176.02 228.25,176.08 229.00,176.13 229.75,176.18 230.50,176.24 231.25,176.31 232.00,176.37 232.75,176.44 233.50,176.51 234.25,176.57 235.00,176.64 235.75,176.70 236.50,176.77 237.25,176.83 238.00,176.90 238.75,176.96 239.50,177.03 240.25,177.09 241.00,177.16 241.75,177.23 242.50,177.29 243.25,177.36 244.00,177.42 244.75,177.49 245.50,177.42 246.25,177.31 247.00,177.20 247.75,177.10 248.50,176.99 249.25,176.88 250.00,176.78 250.75,176.67 251.50,176.57 252.25,176.46 253.00,176.35 253.75,176.25 254.50,176.14 255.25,176.04 256.00,175.95 256.75,175.85 257.50,175.75 258.25,175.66 259.00,175.56 259.75,175.46 260.50,175.37 261.25,175.27 262.00,175.17 262.75,175.08 263.50,174.98 264.25,174.88 265.00,174.79 265.75,174.69 266.50,174.59 267.25,174.50 268.00,174.40 268.75,174.29 269.50,174.17 270.25,174.06 271.00,173.95 271.75,173.84 272.50,173.72 273.25,173.61 274.00,173.50 274.75,173.38 275.50,173.27 276.25,173.16 277.00,173.05 277.75,172.93 278.50,172.82 279.25,172.71 280.00,172.60 280.75,172.48 280.75,223.65 280.00,223.30 279.25,222.95 278.50,222.61 277.75,222.26 277.00,221.92 276.25,221.57 275.50,221.22 274.75,220.89 274.00,220.75 273.25,220.60 272.50,220.46 271.75,220.31 271.00,220.17 270.25,220.03 269.50,219.88 268.75,219.74 268.00,219.59 267.25,219.45 266.50,219.31 265.75,219.16 265.00,219.02 264.25,218.92 263.50,218.84 262.75,218.75 262.00,218.66 261.25,218.58 260.50,218.49 259.75,218.40 259.00,218.31 258.25,218.23 257.50,218.14 256.75,218.05 256.00,217.97 255.25,217.88 254.50,217.79 253.75,217.70 253.00,217.62 252.25,217.53 251.50,217.43 250.75,217.31 250.00,217.20 249.25,217.09 248.50,216.97 247.75,216.86 247.00,216.75 246.25,216.64 245.50,216.53 244.75,216.41 244.00,216.30 243.25,216.19 242.50,216.07 241.75,215.96 241.00,215.85 240.25,215.74 239.50,215.62 238.75,215.51 238.00,215.40 237.25,215.29 236.50,215.17 235.75,215.06 235.00,214.95 234.25,214.84 233.50,214.72 232.75,214.61 232.00,214.50 231.25,214.39 230.50,214.27 229.75,214.17 229.00,214.09 228.25,214.01 227.50,213.94 226.75,213.86 226.00,213.78 225.25,213.70 224.50,213.62 223.75,213.54 223.00,213.46 222.25,213.38 221.50,213.30 220.75,213.22 220.00,213.14 219.25,213.06 218.50,212.98 217.75,212.90 217.00,212.82 216.25,212.74 215.50,212.66 214.75,212.59 214.00,212.51 213.25,212.43 212.50,212.35 211.75,212.28 211.00,212.21 210.25,212.13 209.50,212.06 208.75,211.99 208.00,211.92 207.25,211.84 206.50,211.77 205.75,211.70 205.00,211.62 204.25,211.55 203.50,211.48 202.75,211.41 202.00,211.33 201.25,211.26 200.50,211.19 199.75,211.12 199.00,211.04 198.25,210.97 197.50,210.90 196.75,210.82 196.00,210.68 195.25,210.51 194.50,210.34 193.75,210.17 193.00,209.99 192.25,209.82 191.50,209.65 190.75,209.48 190.00,209.30 189.25,209.13 188.50,208.96 187.75,208.78 187.00,208.61 186.25,208.44 185.50,208.27 184.75,208.09 184.00,207.92 183.25,207.75 182.50,207.58 181.75,207.40 181.00,207.23 180.25,207.06 179.50,206.88 178.75,206.70 178.00,206.52 177.25,206.35 176.50,206.17 175.75,205.99 175.00,205.81 174.25,205.63 173.50,205.46 172.75,205.28 172.00,205.10 171.25,204.92 170.50,204.74 169.75,204.59 169.00,204.52 168.25,204.46 167.50,204.40 166.75,204.33 166.00,204.27 165.25,204.21 164.50,204.14 163.75,204.08 163.00,204.02 162.25,204.06 161.50,204.15 160.75,204.23 160.00,204.32 159.25,204.40 158.50,204.49 157.75,204.26 157.00,203.40 156.25,202.52 155.50,201.61 154.75,200.68 154.00,199.66 153.25,198.62 152.50,197.58 151.75,196.51 151.00,195.44 150.25,194.34 149.50,193.13 148.75,191.83 148.00,190.48 147.25,189.10 146.50,187.68 145.75,186.22 145.00,184.73 144.25,183.14 143.50,181.53 142.75,179.88 142.00,178.20 141.25,176.44 140.50,174.63 139.75,172.79 139.00,170.90 138.25,168.98 137.50,167.04 136.75,165.07 136.00,163.09 135.25,161.10 134.50,159.08 133.75,157.03 133.00,154.98 132.25,152.93 131.50,150.88 130.75,148.83 130.00,146.78 129.25,144.73 128.50,142.69" fill="#9dcfd4"/><polygon points="29.50,67.56 30.25,66.95 31.00,66.27 31.75,65.59 32.50,64.91 33.25,64.22 34.00,63.50 34.75,62.61 35.50,61.72 36.25,60.83 37.00,60.02 37.75,59.36 38.50,58.70 39.25,58.02 40.00,57.34 40.75,56.66 41.50,55.96 42.25,55.25 43.00,54.87 43.75,54.65 44.50,54.43 45.25,54.20 46.00,53.98 46.75,53.75 47.50,53.52 48.25,53.30 49.00,53.07 49.75,52.83 50.50,52.60 51.25,52.38 52.00,52.16 52.75,51.94 53.50,51.71 54.25,51.49 55.00,51.27 55.75,51.04 56.50,50.83 57.25,50.82 58.00,51.23 58.75,51.60 59.50,52.45 59.50,80.09 58.75,78.76 58.00,77.60 57.25,75.84 56.50,81.60 55.75,79.91 55.00,79.10 54.25,78.30 53.50,77.76 52.75,77.47 52.00,77.17 51.25,76.88 50.50,76.69 49.75,76.67 49.00,76.65 48.25,76.63 47.50,76.62 46.75,76.60 46.00,76.58 45.25,76.56 44.50,76.54 43.75,76.52 43.00,76.50 42.25,76.51 41.50,76.57 40.75,76.63 40.00,76.67 39.25,76.70 38.50,76.73 37.75,76.76 37.00,76.80 36.25,76.86 35.50,77.05 34.75,77.33 34.00,77.62 33.25,77.87 32.50,78.12 31.75,78.37 31.00,78.63 30.25,78.88 29.50,79.13" fill="#9dcfd4"/><polyline points="50.00,75.27 51.00,75.17 52.00,75.07 53.00,74.98 54.00,74.88 55.00,74.78 56.00,74.68 57.00,74.59 58.00,75.22 59.00,77.22 60.00,79.21 61.00,81.21 62.00,83.21 63.00,85.21 64.00,87.20 65.00,89.20 66.00,91.20 67.00,93.19 68.00,95.19 69.00,97.19 70.00,99.19 71.00,101.18 72.00,103.10 73.00,104.84 74.00,106.58 75.00,108.33 76.00,110.07 77.00,111.81 78.00,113.55 79.00,115.30 80.00,117.04 81.00,118.78 82.00,120.52 83.00,122.27 84.00,124.01 85.00,125.75 86.00,127.24 87.00,128.14 88.00,129.04 89.00,129.94 90.00,130.84 91.00,131.74 92.00,132.64 93.00,133.55 94.00,134.45 95.00,135.35 96.00,136.25 97.00,137.15 98.00,138.05 99.00,138.95 100.00,139.83 101.00,140.65 102.00,141.47 103.00,142.30 104.00,143.12 105.00,143.94 106.00,144.76 107.00,145.58 108.00,146.41 109.00,147.23 110.00,148.05 111.00,148.87 112.00,149.70 113.00,150.52 114.00,151.31 115.00,151.99 116.00,152.68 117.00,153.36 118.00,154.05 119.00,154.73 120.00,155.42 121.00,156.10 122.00,156.79 123.00,157.47 124.00,158.16 125.00,158.84 126.00,159.53 127.00,160.22 128.00,160.88 129.00,161.49 130.00,162.10 131.00,162.70 132.00,163.31 133.00,163.92 134.00,164.52 135.00,165.13" fill="none" stroke="#9dcfd4" stroke-width="5.5" stroke-linejoin="round" stroke-linecap="round"/><polyline points="50.00,68.71 51.00,68.68 52.00,68.65 53.00,68.62 54.00,68.59 55.00,68.56 56.00,68.53 57.00,68.50 58.00,69.17 59.00,71.12 60.00,73.08 61.00,75.04 62.00,77.00 63.00,78.96 64.00,80.91 65.00,82.87 66.00,84.83 67.00,86.79 68.00,88.75 69.00,90.70 70.00,92.66 71.00,94.62 72.00,96.57 73.00,98.51 74.00,100.45 75.00,102.39 76.00,104.32 77.00,106.26 78.00,108.20 79.00,110.14 80.00,112.08 81.00,114.02 82.00,115.95 83.00,117.89 84.00,119.83 85.00,121.77 86.00,123.34 87.00,124.04 88.00,124.75 89.00,125.45 90.00,126.16 91.00,126.86 92.00,127.57 93.00,128.27 94.00,128.98 95.00,129.68 96.00,130.39 97.00,131.09 98.00,131.80 99.00,132.50 100.00,133.26 101.00,134.18 102.00,135.11 103.00,136.03 104.00,136.95 105.00,137.87 106.00,138.79 107.00,139.71 108.00,140.63 109.00,141.55 110.00,142.47 111.00,143.39 112.00,144.31 113.00,145.23 114.00,146.06 115.00,146.63 116.00,147.20 117.00,147.76 118.00,148.33 119.00,148.90 120.00,149.47 121.00,150.03 122.00,150.60 123.00,151.17 124.00,151.74 125.00,152.31 126.00,152.87 127.00,153.44 128.00,154.06 129.00,154.85 130.00,155.65 131.00,156.44 132.00,157.23 133.00,158.02 134.00,158.82 135.00,159.61" fill="none" stroke="#9dcfd4" stroke-width="5.5" stroke-linejoin="round" stroke-linecap="round"/><polyline points="50.00,64.31 51.00,64.28 52.00,64.25 53.00,64.22 54.00,64.19 55.00,64.16 56.00,64.14 57.00,64.11 58.00,64.60 59.00,66.07 60.00,67.54 61.00,69.01 62.00,70.47 63.00,71.94 64.00,73.41 65.00,74.88 66.00,76.35 67.00,77.82 68.00,79.29 69.00,80.75 70.00,82.22 71.00,83.69 72.00,85.36 73.00,87.43 74.00,89.51 75.00,91.58 76.00,93.66 77.00,95.73 78.00,97.81 79.00,99.88 80.00,101.96 81.00,104.04 82.00,106.11 83.00,108.19 84.00,110.26 85.00,112.34 86.00,114.06 87.00,114.96 88.00,115.86 89.00,116.76 90.00,117.66 91.00,118.56 92.00,119.46 93.00,120.36 94.00,121.26 95.00,122.17 96.00,123.07 97.00,123.97 98.00,124.87 99.00,125.77 100.00,126.70 101.00,127.69 102.00,128.69 103.00,129.69 104.00,130.69 105.00,131.69 106.00,132.69 107.00,133.69 108.00,134.68 109.00,135.68 110.00,136.68 111.00,137.68 112.00,138.68 113.00,139.68 114.00,140.58 115.00,141.21 116.00,141.84 117.00,142.46 118.00,143.09 119.00,143.72 120.00,144.34 121.00,144.97 122.00,145.59 123.00,146.22 124.00,146.85 125.00,147.47 126.00,148.10 127.00,148.73 128.00,149.42 129.00,150.32 130.00,151.22 131.00,152.12 132.00,153.02 133.00,153.92 134.00,154.82 135.00,155.72" fill="none" stroke="#9dcfd4" stroke-width="5.5" stroke-linejoin="round" stroke-linecap="round"/></g><polyline points="150.0,154.0 151.5,154.7 153.0,155.5 154.5,156.2 156.0,157.0 157.5,157.7 159.0,158.5 160.5,159.2 162.0,159.9 163.5,160.7 165.0,161.4 166.5,162.2 168.0,162.6 169.5,163.1 171.0,163.6 172.5,164.1 174.0,164.6 175.5,165.1 177.0,165.6 178.5,166.1 180.0,166.6 181.5,167.2 183.0,167.8 184.5,168.3 186.0,168.9 187.5,169.4 189.0,170.0 190.5,170.5 192.0,171.0 193.5,171.5 195.0,172.0 196.5,172.4 198.0,172.9 199.5,173.3 201.0,173.8 202.5,174.1 204.0,174.3 205.5,174.6 207.0,174.8 208.5,175.0 210.0,175.3 211.5,175.5 213.0,175.7 214.5,175.8 216.0,175.9 217.5,176.1 219.0,176.2 220.5,176.3 222.0,176.4 223.5,176.5 225.0,176.6 226.5,176.7 228.0,176.8 229.5,176.9 231.0,177.1 232.5,177.2 234.0,177.3 235.5,177.5 237.0,177.6 238.5,177.7 240.0,177.9 241.5,178.0 243.0,178.1 244.5,178.3 246.0,178.2 247.5,178.0 249.0,177.8 250.5,177.6 252.0,177.4 253.5,177.2 255.0,177.0 256.5,176.8 258.0,176.7 259.5,176.5 261.0,176.3 262.5,176.1 264.0,176.0 265.5,175.8 267.0,175.6 268.5,175.5 270.0,175.3 271.5,175.1 273.0,174.9 274.5,174.7 276.0,174.5 277.5,174.3 279.0,174.1 280.5,173.9" fill="none" stroke="#3f9aa3" stroke-opacity="0.1" stroke-width="0.5"/><polyline points="150.0,156.7 151.5,157.4 153.0,158.1 154.5,158.8 156.0,159.5 157.5,160.2 159.0,160.9 160.5,161.6 162.0,162.2 163.5,163.0 165.0,163.7 166.5,164.4 168.0,164.8 169.5,165.3 171.0,165.8 172.5,166.3 174.0,166.8 175.5,167.3 177.0,167.8 178.5,168.3 180.0,168.8 181.5,169.3 183.0,169.9 184.5,170.4 186.0,171.0 187.5,171.5 189.0,172.1 190.5,172.6 192.0,173.0 193.5,173.5 195.0,174.0 196.5,174.4 198.0,174.9 199.5,175.3 201.0,175.8 202.5,176.1 204.0,176.3 205.5,176.5 207.0,176.8 208.5,177.0 210.0,177.2 211.5,177.4 213.0,177.7 214.5,177.8 216.0,177.9 217.5,178.0 219.0,178.1 220.5,178.2 222.0,178.3 223.5,178.4 225.0,178.5 226.5,178.7 228.0,178.8 229.5,178.9 231.0,179.0 232.5,179.2 234.0,179.3 235.5,179.4 237.0,179.6 238.5,179.7 240.0,179.9 241.5,180.0 243.0,180.1 244.5,180.3 246.0,180.2 247.5,180.0 249.0,179.9 250.5,179.7 252.0,179.5 253.5,179.3 255.0,179.2 256.5,179.0 258.0,178.9 259.5,178.7 261.0,178.5 262.5,178.4 264.0,178.2 265.5,178.1 267.0,177.9 268.5,177.8 270.0,177.6 271.5,177.4 273.0,177.3 274.5,177.1 276.0,176.9 277.5,176.8 279.0,176.7 280.5,176.5" fill="none" stroke="#3f9aa3" stroke-opacity="0.1" stroke-width="0.5"/><polyline points="150.0,159.3 151.5,160.0 153.0,160.7 154.5,161.4 156.0,162.0 157.5,162.7 159.0,163.3 160.5,163.9 162.0,164.6 163.5,165.2 165.0,165.9 166.5,166.6 168.0,167.0 169.5,167.5 171.0,168.0 172.5,168.5 174.0,168.9 175.5,169.4 177.0,169.9 178.5,170.4 180.0,170.9 181.5,171.4 183.0,172.0 184.5,172.5 186.0,173.0 187.5,173.6 189.0,174.1 190.5,174.6 192.0,175.1 193.5,175.5 195.0,176.0 196.5,176.5 198.0,176.9 199.5,177.3 201.0,177.7 202.5,178.0 204.0,178.3 205.5,178.5 207.0,178.7 208.5,178.9 210.0,179.1 211.5,179.4 213.0,179.6 214.5,179.7 216.0,179.8 217.5,179.9 219.0,180.0 220.5,180.2 222.0,180.3 223.5,180.4 225.0,180.5 226.5,180.6 228.0,180.7 229.5,180.8 231.0,181.0 232.5,181.1 234.0,181.3 235.5,181.4 237.0,181.6 238.5,181.7 240.0,181.8 241.5,182.0 243.0,182.1 244.5,182.3 246.0,182.2 247.5,182.1 249.0,181.9 250.5,181.8 252.0,181.6 253.5,181.5 255.0,181.3 256.5,181.2 258.0,181.0 259.5,180.9 261.0,180.8 262.5,180.6 264.0,180.5 265.5,180.4 267.0,180.2 268.5,180.1 270.0,180.0 271.5,179.8 273.0,179.7 274.5,179.5 276.0,179.4 277.5,179.3 279.0,179.2 280.5,179.2" fill="none" stroke="#3f9aa3" stroke-opacity="0.1" stroke-width="0.5"/><polyline points="150.0,162.0 151.5,162.7 153.0,163.3 154.5,163.9 156.0,164.5 157.5,165.1 159.0,165.7 160.5,166.3 162.0,166.9 163.5,167.5 165.0,168.2 166.5,168.8 168.0,169.2 169.5,169.7 171.0,170.1 172.5,170.6 174.0,171.1 175.5,171.6 177.0,172.0 178.5,172.5 180.0,173.0 181.5,173.5 183.0,174.1 184.5,174.6 186.0,175.1 187.5,175.6 189.0,176.2 190.5,176.7 192.0,177.1 193.5,177.6 195.0,178.0 196.5,178.5 198.0,178.9 199.5,179.3 201.0,179.7 202.5,180.0 204.0,180.2 205.5,180.4 207.0,180.7 208.5,180.9 210.0,181.1 211.5,181.3 213.0,181.5 214.5,181.6 216.0,181.8 217.5,181.9 219.0,182.0 220.5,182.1 222.0,182.2 223.5,182.3 225.0,182.5 226.5,182.6 228.0,182.7 229.5,182.8 231.0,182.9 232.5,183.1 234.0,183.2 235.5,183.4 237.0,183.5 238.5,183.7 240.0,183.8 241.5,184.0 243.0,184.1 244.5,184.3 246.0,184.2 247.5,184.1 249.0,184.0 250.5,183.9 252.0,183.7 253.5,183.6 255.0,183.5 256.5,183.3 258.0,183.2 259.5,183.1 261.0,183.0 262.5,182.9 264.0,182.8 265.5,182.6 267.0,182.5 268.5,182.4 270.0,182.3 271.5,182.2 273.0,182.1 274.5,181.9 276.0,181.9 277.5,181.8 279.0,181.8 280.5,181.8" fill="none" stroke="#3f9aa3" stroke-opacity="0.1" stroke-width="0.5"/><polyline points="150.0,164.7 151.5,165.3 153.0,165.9 154.5,166.5 156.0,167.0 157.5,167.6 159.0,168.1 160.5,168.7 162.0,169.2 163.5,169.8 165.0,170.4 166.5,171.0 168.0,171.4 169.5,171.9 171.0,172.3 172.5,172.8 174.0,173.2 175.5,173.7 177.0,174.2 178.5,174.7 180.0,175.1 181.5,175.6 183.0,176.2 184.5,176.7 186.0,177.2 187.5,177.7 189.0,178.2 190.5,178.7 192.0,179.2 193.5,179.6 195.0,180.1 196.5,180.5 198.0,180.9 199.5,181.3 201.0,181.7 202.5,182.0 204.0,182.2 205.5,182.4 207.0,182.6 208.5,182.8 210.0,183.0 211.5,183.2 213.0,183.5 214.5,183.6 216.0,183.7 217.5,183.8 219.0,183.9 220.5,184.0 222.0,184.2 223.5,184.3 225.0,184.4 226.5,184.5 228.0,184.6 229.5,184.8 231.0,184.9 232.5,185.1 234.0,185.2 235.5,185.4 237.0,185.5 238.5,185.7 240.0,185.8 241.5,186.0 243.0,186.1 244.5,186.3 246.0,186.3 247.5,186.2 249.0,186.1 250.5,185.9 252.0,185.8 253.5,185.7 255.0,185.6 256.5,185.5 258.0,185.4 259.5,185.3 261.0,185.2 262.5,185.1 264.0,185.0 265.5,184.9 267.0,184.8 268.5,184.8 270.0,184.7 271.5,184.6 273.0,184.5 274.5,184.4 276.0,184.4 277.5,184.4 279.0,184.4 280.5,184.4" fill="none" stroke="#3f9aa3" stroke-opacity="0.1" stroke-width="0.5"/><polyline points="150.0,167.4 151.5,167.9 153.0,168.5 154.5,169.0 156.0,169.6 157.5,170.1 159.0,170.6 160.5,171.0 162.0,171.5 163.5,172.1 165.0,172.7 166.5,173.2 168.0,173.6 169.5,174.0 171.0,174.5 172.5,174.9 174.0,175.4 175.5,175.9 177.0,176.3 178.5,176.8 180.0,177.2 181.5,177.8 183.0,178.3 184.5,178.8 186.0,179.3 187.5,179.8 189.0,180.3 190.5,180.8 192.0,181.2 193.5,181.6 195.0,182.1 196.5,182.5 198.0,182.9 199.5,183.3 201.0,183.7 202.5,183.9 204.0,184.1 205.5,184.3 207.0,184.5 208.5,184.8 210.0,185.0 211.5,185.2 213.0,185.4 214.5,185.5 216.0,185.6 217.5,185.7 219.0,185.9 220.5,186.0 222.0,186.1 223.5,186.2 225.0,186.4 226.5,186.5 228.0,186.6 229.5,186.7 231.0,186.9 232.5,187.0 234.0,187.2 235.5,187.3 237.0,187.5 238.5,187.7 240.0,187.8 241.5,188.0 243.0,188.1 244.5,188.3 246.0,188.3 247.5,188.2 249.0,188.1 250.5,188.0 252.0,188.0 253.5,187.9 255.0,187.8 256.5,187.7 258.0,187.6 259.5,187.5 261.0,187.4 262.5,187.4 264.0,187.3 265.5,187.2 267.0,187.2 268.5,187.1 270.0,187.0 271.5,187.0 273.0,186.9 274.5,186.8 276.0,186.8 277.5,186.9 279.0,186.9 280.5,187.0" fill="none" stroke="#3f9aa3" stroke-opacity="0.1" stroke-width="0.5"/><polyline points="150.0,170.0 151.5,170.6 153.0,171.1 154.5,171.6 156.0,172.1 157.5,172.5 159.0,173.0 160.5,173.4 162.0,173.9 163.5,174.4 165.0,174.9 166.5,175.5 168.0,175.8 169.5,176.2 171.0,176.6 172.5,177.1 174.0,177.6 175.5,178.0 177.0,178.5 178.5,178.9 180.0,179.4 181.5,179.9 183.0,180.4 184.5,180.9 186.0,181.4 187.5,181.9 189.0,182.3 190.5,182.8 192.0,183.2 193.5,183.7 195.0,184.1 196.5,184.5 198.0,184.9 199.5,185.3 201.0,185.6 202.5,185.9 204.0,186.1 205.5,186.3 207.0,186.5 208.5,186.7 210.0,186.9 211.5,187.1 213.0,187.3 214.5,187.4 216.0,187.6 217.5,187.7 219.0,187.8 220.5,187.9 222.0,188.1 223.5,188.2 225.0,188.3 226.5,188.4 228.0,188.6 229.5,188.7 231.0,188.8 232.5,189.0 234.0,189.2 235.5,189.3 237.0,189.5 238.5,189.6 240.0,189.8 241.5,190.0 243.0,190.1 244.5,190.3 246.0,190.3 247.5,190.2 249.0,190.2 250.5,190.1 252.0,190.1 253.5,190.0 255.0,189.9 256.5,189.9 258.0,189.8 259.5,189.7 261.0,189.7 262.5,189.6 264.0,189.5 265.5,189.5 267.0,189.5 268.5,189.4 270.0,189.4 271.5,189.3 273.0,189.3 274.5,189.2 276.0,189.3 277.5,189.4 279.0,189.5 280.5,189.6" fill="none" stroke="#3f9aa3" stroke-opacity="0.1" stroke-width="0.5"/><polyline points="150.0,172.7 151.5,173.2 153.0,173.7 154.5,174.2 156.0,174.6 157.5,175.0 159.0,175.4 160.5,175.8 162.0,176.2 163.5,176.7 165.0,177.2 166.5,177.7 168.0,178.0 169.5,178.4 171.0,178.8 172.5,179.3 174.0,179.7 175.5,180.2 177.0,180.6 178.5,181.1 180.0,181.5 181.5,182.0 183.0,182.5 184.5,183.0 186.0,183.4 187.5,183.9 189.0,184.4 190.5,184.9 192.0,185.3 193.5,185.7 195.0,186.1 196.5,186.6 198.0,186.9 199.5,187.3 201.0,187.6 202.5,187.8 204.0,188.0 205.5,188.2 207.0,188.4 208.5,188.6 210.0,188.8 211.5,189.0 213.0,189.2 214.5,189.4 216.0,189.5 217.5,189.6 219.0,189.7 220.5,189.9 222.0,190.0 223.5,190.1 225.0,190.3 226.5,190.4 228.0,190.5 229.5,190.6 231.0,190.8 232.5,191.0 234.0,191.1 235.5,191.3 237.0,191.5 238.5,191.6 240.0,191.8 241.5,192.0 243.0,192.1 244.5,192.3 246.0,192.3 247.5,192.3 249.0,192.3 250.5,192.2 252.0,192.2 253.5,192.1 255.0,192.1 256.5,192.0 258.0,192.0 259.5,191.9 261.0,191.9 262.5,191.8 264.0,191.8 265.5,191.8 267.0,191.8 268.5,191.8 270.0,191.7 271.5,191.7 273.0,191.7 274.5,191.7 276.0,191.8 277.5,191.9 279.0,192.1 280.5,192.2" fill="none" stroke="#3f9aa3" stroke-opacity="0.1" stroke-width="0.5"/><polyline points="150.0,175.4 151.5,175.8 153.0,176.3 154.5,176.7 156.0,177.1 157.5,177.5 159.0,177.8 160.5,178.2 162.0,178.5 163.5,178.9 165.0,179.4 166.5,179.9 168.0,180.2 169.5,180.6 171.0,181.0 172.5,181.4 174.0,181.9 175.5,182.3 177.0,182.7 178.5,183.2 180.0,183.6 181.5,184.1 183.0,184.6 184.5,185.0 186.0,185.5 187.5,186.0 189.0,186.5 190.5,186.9 192.0,187.3 193.5,187.7 195.0,188.2 196.5,188.6 198.0,188.9 199.5,189.2 201.0,189.6 202.5,189.8 204.0,190.0 205.5,190.2 207.0,190.4 208.5,190.6 210.0,190.8 211.5,191.0 213.0,191.2 214.5,191.3 216.0,191.4 217.5,191.6 219.0,191.7 220.5,191.8 222.0,191.9 223.5,192.1 225.0,192.2 226.5,192.3 228.0,192.5 229.5,192.6 231.0,192.8 232.5,192.9 234.0,193.1 235.5,193.3 237.0,193.4 238.5,193.6 240.0,193.8 241.5,194.0 243.0,194.1 244.5,194.3 246.0,194.3 247.5,194.3 249.0,194.3 250.5,194.3 252.0,194.3 253.5,194.2 255.0,194.2 256.5,194.2 258.0,194.2 259.5,194.1 261.0,194.1 262.5,194.1 264.0,194.0 265.5,194.0 267.0,194.1 268.5,194.1 270.0,194.1 271.5,194.1 273.0,194.1 274.5,194.1 276.0,194.3 277.5,194.4 279.0,194.6 280.5,194.8" fill="none" stroke="#3f9aa3" stroke-opacity="0.1" stroke-width="0.5"/><polyline points="150.0,178.1 151.5,178.5 153.0,178.9 154.5,179.3 156.0,179.6 157.5,179.9 159.0,180.2 160.5,180.5 162.0,180.8 163.5,181.2 165.0,181.7 166.5,182.1 168.0,182.4 169.5,182.8 171.0,183.2 172.5,183.6 174.0,184.0 175.5,184.5 177.0,184.9 178.5,185.3 180.0,185.8 181.5,186.2 183.0,186.7 184.5,187.1 186.0,187.6 187.5,188.1 189.0,188.5 190.5,189.0 192.0,189.4 193.5,189.8 195.0,190.2 196.5,190.6 198.0,190.9 199.5,191.2 201.0,191.5 202.5,191.8 204.0,192.0 205.5,192.1 207.0,192.3 208.5,192.5 210.0,192.7 211.5,192.9 213.0,193.1 214.5,193.2 216.0,193.4 217.5,193.5 219.0,193.6 220.5,193.8 222.0,193.9 223.5,194.0 225.0,194.2 226.5,194.3 228.0,194.4 229.5,194.6 231.0,194.7 232.5,194.9 234.0,195.1 235.5,195.3 237.0,195.4 238.5,195.6 240.0,195.8 241.5,196.0 243.0,196.1 244.5,196.3 246.0,196.4 247.5,196.4 249.0,196.4 250.5,196.4 252.0,196.4 253.5,196.4 255.0,196.4 256.5,196.4 258.0,196.3 259.5,196.3 261.0,196.3 262.5,196.3 264.0,196.3 265.5,196.3 267.0,196.4 268.5,196.4 270.0,196.4 271.5,196.5 273.0,196.5 274.5,196.5 276.0,196.7 277.5,197.0 279.0,197.2 280.5,197.4" fill="none" stroke="#3f9aa3" stroke-opacity="0.1" stroke-width="0.5"/><polyline points="150.0,180.8 151.5,181.1 153.0,181.5 154.5,181.8 156.0,182.1 157.5,182.4 159.0,182.7 160.5,182.9 162.0,183.2 163.5,183.5 165.0,183.9 166.5,184.3 168.0,184.6 169.5,184.9 171.0,185.3 172.5,185.8 174.0,186.2 175.5,186.6 177.0,187.0 178.5,187.5 180.0,187.9 181.5,188.3 183.0,188.8 184.5,189.2 186.0,189.7 187.5,190.1 189.0,190.6 190.5,191.0 192.0,191.4 193.5,191.8 195.0,192.2 196.5,192.6 198.0,192.9 199.5,193.2 201.0,193.5 202.5,193.7 204.0,193.9 205.5,194.1 207.0,194.3 208.5,194.5 210.0,194.7 211.5,194.8 213.0,195.0 214.5,195.2 216.0,195.3 217.5,195.4 219.0,195.6 220.5,195.7 222.0,195.8 223.5,196.0 225.0,196.1 226.5,196.2 228.0,196.4 229.5,196.5 231.0,196.7 232.5,196.9 234.0,197.0 235.5,197.2 237.0,197.4 238.5,197.6 240.0,197.8 241.5,198.0 243.0,198.1 244.5,198.3 246.0,198.4 247.5,198.4 249.0,198.5 250.5,198.5 252.0,198.5 253.5,198.5 255.0,198.5 256.5,198.5 258.0,198.5 259.5,198.5 261.0,198.5 262.5,198.6 264.0,198.6 265.5,198.6 267.0,198.7 268.5,198.7 270.0,198.8 271.5,198.8 273.0,198.9 274.5,199.0 276.0,199.2 277.5,199.5 279.0,199.8 280.5,200.0" fill="none" stroke="#3f9aa3" stroke-opacity="0.1" stroke-width="0.5"/><polyline points="150.0,183.4 151.5,183.8 153.0,184.1 154.5,184.4 156.0,184.7 157.5,184.9 159.0,185.1 160.5,185.3 162.0,185.5 163.5,185.8 165.0,186.2 166.5,186.6 168.0,186.8 169.5,187.1 171.0,187.5 172.5,187.9 174.0,188.3 175.5,188.7 177.0,189.2 178.5,189.6 180.0,190.0 181.5,190.4 183.0,190.9 184.5,191.3 186.0,191.8 187.5,192.2 189.0,192.6 190.5,193.0 192.0,193.4 193.5,193.8 195.0,194.2 196.5,194.6 198.0,194.9 199.5,195.2 201.0,195.5 202.5,195.7 204.0,195.9 205.5,196.1 207.0,196.2 208.5,196.4 210.0,196.6 211.5,196.8 213.0,197.0 214.5,197.1 216.0,197.2 217.5,197.4 219.0,197.5 220.5,197.6 222.0,197.8 223.5,197.9 225.0,198.1 226.5,198.2 228.0,198.3 229.5,198.5 231.0,198.6 232.5,198.8 234.0,199.0 235.5,199.2 237.0,199.4 238.5,199.6 240.0,199.8 241.5,200.0 243.0,200.1 244.5,200.3 246.0,200.4 247.5,200.5 249.0,200.5 250.5,200.6 252.0,200.6 253.5,200.6 255.0,200.7 256.5,200.7 258.0,200.7 259.5,200.7 261.0,200.8 262.5,200.8 264.0,200.8 265.5,200.9 267.0,201.0 268.5,201.1 270.0,201.1 271.5,201.2 273.0,201.3 274.5,201.4 276.0,201.7 277.5,202.0 279.0,202.3 280.5,202.6" fill="none" stroke="#3f9aa3" stroke-opacity="0.1" stroke-width="0.5"/><polyline points="150.0,186.1 151.5,186.4 153.0,186.7 154.5,187.0 156.0,187.2 157.5,187.3 159.0,187.5 160.5,187.7 162.0,187.8 163.5,188.1 165.0,188.4 166.5,188.8 168.0,189.0 169.5,189.3 171.0,189.7 172.5,190.1 174.0,190.5 175.5,190.9 177.0,191.3 178.5,191.7 180.0,192.1 181.5,192.6 183.0,193.0 184.5,193.4 186.0,193.8 187.5,194.3 189.0,194.7 190.5,195.1 192.0,195.5 193.5,195.9 195.0,196.3 196.5,196.7 198.0,196.9 199.5,197.2 201.0,197.4 202.5,197.7 204.0,197.8 205.5,198.0 207.0,198.2 208.5,198.4 210.0,198.5 211.5,198.7 213.0,198.9 214.5,199.0 216.0,199.2 217.5,199.3 219.0,199.5 220.5,199.6 222.0,199.7 223.5,199.9 225.0,200.0 226.5,200.2 228.0,200.3 229.5,200.4 231.0,200.6 232.5,200.8 234.0,201.0 235.5,201.2 237.0,201.4 238.5,201.6 240.0,201.8 241.5,202.0 243.0,202.1 244.5,202.3 246.0,202.4 247.5,202.5 249.0,202.6 250.5,202.7 252.0,202.7 253.5,202.8 255.0,202.8 256.5,202.9 258.0,202.9 259.5,202.9 261.0,203.0 262.5,203.0 264.0,203.1 265.5,203.2 267.0,203.3 268.5,203.4 270.0,203.5 271.5,203.6 273.0,203.7 274.5,203.8 276.0,204.1 277.5,204.5 279.0,204.9 280.5,205.3" fill="none" stroke="#3f9aa3" stroke-opacity="0.1" stroke-width="0.5"/><polyline points="150.0,188.8 151.5,189.0 153.0,189.3 154.5,189.5 156.0,189.7 157.5,189.8 159.0,189.9 160.5,190.0 162.0,190.1 163.5,190.4 165.0,190.7 166.5,191.0 168.0,191.2 169.5,191.5 171.0,191.8 172.5,192.2 174.0,192.6 175.5,193.0 177.0,193.4 178.5,193.8 180.0,194.2 181.5,194.7 183.0,195.1 184.5,195.5 186.0,195.9 187.5,196.3 189.0,196.7 190.5,197.1 192.0,197.5 193.5,197.9 195.0,198.3 196.5,198.7 198.0,198.9 199.5,199.2 201.0,199.4 202.5,199.6 204.0,199.8 205.5,200.0 207.0,200.1 208.5,200.3 210.0,200.5 211.5,200.6 213.0,200.8 214.5,201.0 216.0,201.1 217.5,201.2 219.0,201.4 220.5,201.5 222.0,201.7 223.5,201.8 225.0,202.0 226.5,202.1 228.0,202.2 229.5,202.4 231.0,202.6 232.5,202.8 234.0,203.0 235.5,203.2 237.0,203.4 238.5,203.6 240.0,203.8 241.5,203.9 243.0,204.1 244.5,204.3 246.0,204.5 247.5,204.6 249.0,204.7 250.5,204.7 252.0,204.8 253.5,204.9 255.0,205.0 256.5,205.0 258.0,205.1 259.5,205.1 261.0,205.2 262.5,205.3 264.0,205.3 265.5,205.4 267.0,205.6 268.5,205.7 270.0,205.9 271.5,206.0 273.0,206.1 274.5,206.3 276.0,206.6 277.5,207.0 279.0,207.5 280.5,207.9" fill="none" stroke="#3f9aa3" stroke-opacity="0.1" stroke-width="0.5"/><polyline points="150.0,191.5 151.5,191.7 153.0,191.9 154.5,192.1 156.0,192.2 157.5,192.3 159.0,192.3 160.5,192.4 162.0,192.5 163.5,192.6 165.0,192.9 166.5,193.2 168.0,193.4 169.5,193.7 171.0,194.0 172.5,194.4 174.0,194.8 175.5,195.2 177.0,195.6 178.5,196.0 180.0,196.4 181.5,196.8 183.0,197.2 184.5,197.6 186.0,198.0 187.5,198.4 189.0,198.8 190.5,199.2 192.0,199.6 193.5,199.9 195.0,200.3 196.5,200.7 198.0,200.9 199.5,201.2 201.0,201.4 202.5,201.6 204.0,201.7 205.5,201.9 207.0,202.1 208.5,202.2 210.0,202.4 211.5,202.6 213.0,202.8 214.5,202.9 216.0,203.0 217.5,203.2 219.0,203.3 220.5,203.5 222.0,203.6 223.5,203.8 225.0,203.9 226.5,204.1 228.0,204.2 229.5,204.4 231.0,204.5 232.5,204.7 234.0,204.9 235.5,205.1 237.0,205.3 238.5,205.5 240.0,205.7 241.5,205.9 243.0,206.1 244.5,206.3 246.0,206.5 247.5,206.6 249.0,206.7 250.5,206.8 252.0,206.9 253.5,207.0 255.0,207.1 256.5,207.2 258.0,207.3 259.5,207.4 261.0,207.4 262.5,207.5 264.0,207.6 265.5,207.7 267.0,207.9 268.5,208.0 270.0,208.2 271.5,208.4 273.0,208.5 274.5,208.7 276.0,209.1 277.5,209.6 279.0,210.0 280.5,210.5" fill="none" stroke="#3f9aa3" stroke-opacity="0.1" stroke-width="0.5"/><polyline points="150.0,194.1 151.5,194.3 153.0,194.5 154.5,194.7 156.0,194.7 157.5,194.7 159.0,194.8 160.5,194.8 162.0,194.8 163.5,194.9 165.0,195.2 166.5,195.4 168.0,195.6 169.5,195.8 171.0,196.2 172.5,196.6 174.0,197.0 175.5,197.3 177.0,197.7 178.5,198.1 180.0,198.5 181.5,198.9 183.0,199.3 184.5,199.7 186.0,200.1 187.5,200.5 189.0,200.8 190.5,201.2 192.0,201.6 193.5,202.0 195.0,202.3 196.5,202.7 198.0,202.9 199.5,203.1 201.0,203.4 202.5,203.5 204.0,203.7 205.5,203.9 207.0,204.0 208.5,204.2 210.0,204.4 211.5,204.5 213.0,204.7 214.5,204.8 216.0,205.0 217.5,205.1 219.0,205.3 220.5,205.4 222.0,205.6 223.5,205.7 225.0,205.9 226.5,206.0 228.0,206.2 229.5,206.3 231.0,206.5 232.5,206.7 234.0,206.9 235.5,207.1 237.0,207.3 238.5,207.5 240.0,207.7 241.5,207.9 243.0,208.1 244.5,208.4 246.0,208.5 247.5,208.6 249.0,208.8 250.5,208.9 252.0,209.1 253.5,209.2 255.0,209.3 256.5,209.4 258.0,209.5 259.5,209.6 261.0,209.7 262.5,209.8 264.0,209.9 265.5,210.0 267.0,210.2 268.5,210.4 270.0,210.6 271.5,210.7 273.0,210.9 274.5,211.1 276.0,211.6 277.5,212.1 279.0,212.6 280.5,213.1" fill="none" stroke="#3f9aa3" stroke-opacity="0.1" stroke-width="0.5"/><polyline points="150.0,196.8 151.5,197.0 153.0,197.1 154.5,197.2 156.0,197.2 157.5,197.2 159.0,197.2 160.5,197.1 162.0,197.1 163.5,197.2 165.0,197.4 166.5,197.7 168.0,197.8 169.5,198.0 171.0,198.4 172.5,198.7 174.0,199.1 175.5,199.5 177.0,199.9 178.5,200.2 180.0,200.6 181.5,201.0 183.0,201.4 184.5,201.8 186.0,202.1 187.5,202.5 189.0,202.9 190.5,203.3 192.0,203.6 193.5,204.0 195.0,204.4 196.5,204.7 198.0,204.9 199.5,205.1 201.0,205.3 202.5,205.5 204.0,205.7 205.5,205.8 207.0,206.0 208.5,206.1 210.0,206.3 211.5,206.5 213.0,206.6 214.5,206.8 216.0,206.9 217.5,207.1 219.0,207.2 220.5,207.4 222.0,207.5 223.5,207.7 225.0,207.8 226.5,208.0 228.0,208.1 229.5,208.3 231.0,208.5 232.5,208.7 234.0,208.9 235.5,209.1 237.0,209.3 238.5,209.5 240.0,209.7 241.5,209.9 243.0,210.1 244.5,210.4 246.0,210.5 247.5,210.7 249.0,210.9 250.5,211.0 252.0,211.2 253.5,211.3 255.0,211.4 256.5,211.5 258.0,211.6 259.5,211.8 261.0,211.9 262.5,212.0 264.0,212.1 265.5,212.3 267.0,212.5 268.5,212.7 270.0,212.9 271.5,213.1 273.0,213.3 274.5,213.5 276.0,214.0 277.5,214.6 279.0,215.1 280.5,215.7" fill="none" stroke="#3f9aa3" stroke-opacity="0.1" stroke-width="0.5"/><polyline points="150.0,199.5 151.5,199.6 153.0,199.7 154.5,199.8 156.0,199.7 157.5,199.7 159.0,199.6 160.5,199.5 162.0,199.4 163.5,199.5 165.0,199.7 166.5,199.9 168.0,200.0 169.5,200.2 171.0,200.5 172.5,200.9 174.0,201.3 175.5,201.6 177.0,202.0 178.5,202.4 180.0,202.8 181.5,203.1 183.0,203.5 184.5,203.9 186.0,204.2 187.5,204.6 189.0,205.0 190.5,205.3 192.0,205.7 193.5,206.0 195.0,206.4 196.5,206.8 198.0,206.9 199.5,207.1 201.0,207.3 202.5,207.5 204.0,207.6 205.5,207.8 207.0,207.9 208.5,208.1 210.0,208.2 211.5,208.4 213.0,208.5 214.5,208.7 216.0,208.8 217.5,209.0 219.0,209.2 220.5,209.3 222.0,209.5 223.5,209.6 225.0,209.8 226.5,209.9 228.0,210.1 229.5,210.2 231.0,210.4 232.5,210.6 234.0,210.9 235.5,211.1 237.0,211.3 238.5,211.5 240.0,211.7 241.5,211.9 243.0,212.1 244.5,212.4 246.0,212.6 247.5,212.7 249.0,212.9 250.5,213.1 252.0,213.3 253.5,213.4 255.0,213.6 256.5,213.7 258.0,213.8 259.5,214.0 261.0,214.1 262.5,214.2 264.0,214.4 265.5,214.6 267.0,214.8 268.5,215.0 270.0,215.3 271.5,215.5 273.0,215.7 274.5,216.0 276.0,216.5 277.5,217.1 279.0,217.7 280.5,218.3" fill="none" stroke="#3f9aa3" stroke-opacity="0.1" stroke-width="0.5"/><polyline points="150.0,202.2 151.5,202.2 153.0,202.3 154.5,202.3 156.0,202.3 157.5,202.1 159.0,202.0 160.5,201.9 162.0,201.8 163.5,201.8 165.0,201.9 166.5,202.1 168.0,202.2 169.5,202.4 171.0,202.7 172.5,203.1 174.0,203.4 175.5,203.8 177.0,204.1 178.5,204.5 180.0,204.9 181.5,205.2 183.0,205.6 184.5,205.9 186.0,206.3 187.5,206.7 189.0,207.0 190.5,207.4 192.0,207.7 193.5,208.1 195.0,208.4 196.5,208.8 198.0,208.9 199.5,209.1 201.0,209.3 202.5,209.4 204.0,209.6 205.5,209.7 207.0,209.9 208.5,210.0 210.0,210.2 211.5,210.3 213.0,210.5 214.5,210.6 216.0,210.8 217.5,210.9 219.0,211.1 220.5,211.3 222.0,211.4 223.5,211.6 225.0,211.7 226.5,211.9 228.0,212.0 229.5,212.2 231.0,212.4 232.5,212.6 234.0,212.8 235.5,213.0 237.0,213.3 238.5,213.5 240.0,213.7 241.5,213.9 243.0,214.1 244.5,214.4 246.0,214.6 247.5,214.8 249.0,215.0 250.5,215.2 252.0,215.4 253.5,215.5 255.0,215.7 256.5,215.9 258.0,216.0 259.5,216.2 261.0,216.3 262.5,216.5 264.0,216.6 265.5,216.8 267.0,217.1 268.5,217.4 270.0,217.6 271.5,217.9 273.0,218.1 274.5,218.4 276.0,219.0 277.5,219.6 279.0,220.3 280.5,220.9" fill="none" stroke="#3f9aa3" stroke-opacity="0.1" stroke-width="0.5"/><polyline points="29.2,73.7 59.5,71.4 74.8,100.8 88.6,124.8 102.1,136.9 115.9,148.3 129.7,157.7 142.9,165.8 170.5,170.9 198.4,176.5 226.2,178.7 254.2,180.8 282.2,181.6" fill="none" stroke="#2e8a90" stroke-opacity="0.18" stroke-width="0.5"/><polyline points="29.4,74.9 58.9,72.5 73.8,101.4 87.6,125.5 101.3,137.8 115.2,149.2 129.1,158.7 142.5,167.0 170.3,172.0 198.2,177.7 226.1,179.9 254.1,182.0 282.1,182.8" fill="none" stroke="#2e8a90" stroke-opacity="0.25" stroke-width="0.5"/><polyline points="29.5,76.1 58.3,73.5 72.7,102.0 86.7,126.2 100.5,138.7 114.5,150.2 128.4,159.7 142.2,168.1 170.1,173.2 198.1,178.9 226.0,181.1 254.1,183.2 282.1,184.0" fill="none" stroke="#2e8a90" stroke-opacity="0.32" stroke-width="0.5"/><polyline points="29.7,78.5 57.0,75.6 70.6,103.1 84.7,127.7 98.9,140.5 113.0,152.1 127.1,161.8 141.4,170.4 169.6,175.6 197.7,181.3 225.9,183.5 253.9,185.6 282.0,186.4" fill="none" stroke="#2e8a90" stroke-opacity="0.32" stroke-width="0.5"/><polyline points="29.8,79.7 56.4,76.6 69.6,103.7 83.8,128.4 98.2,141.4 112.3,153.1 126.5,162.8 141.1,171.5 169.4,176.8 197.6,182.5 225.8,184.7 253.9,186.8 282.0,187.6" fill="none" stroke="#2e8a90" stroke-opacity="0.25" stroke-width="0.5"/><polyline points="30.0,80.9 55.8,77.6 68.5,104.2 82.8,129.1 97.4,142.3 111.6,154.0 125.8,163.8 140.7,172.7 169.2,177.9 197.4,183.7 225.7,185.9 253.8,188.0 281.9,188.8" fill="none" stroke="#2e8a90" stroke-opacity="0.18" stroke-width="0.5"/><polyline points="29.5,65.7 59.6,65.4 74.9,94.3 88.6,121.0 102.0,130.2 115.9,143.0 129.8,150.9 143.6,161.9 171.1,174.4 198.5,181.6 226.1,183.8 254.0,184.1 282.1,184.1" fill="none" stroke="#2e8a90" stroke-opacity="0.18" stroke-width="0.5"/><polyline points="29.5,66.9 58.9,66.5 73.8,94.8 87.6,121.7 101.2,131.1 115.2,144.0 129.1,151.9 143.0,162.9 170.7,175.5 198.3,182.8 226.1,185.0 254.0,185.3 282.1,185.3" fill="none" stroke="#2e8a90" stroke-opacity="0.25" stroke-width="0.5"/><polyline points="29.6,68.1 58.3,67.5 72.7,95.4 86.7,122.4 100.5,132.1 114.5,145.0 128.5,152.9 142.4,164.0 170.3,176.6 198.1,184.0 226.0,186.2 254.0,186.5 282.1,186.5" fill="none" stroke="#2e8a90" stroke-opacity="0.32" stroke-width="0.5"/><polyline points="29.6,70.5 57.0,69.5 70.6,96.5 84.7,123.9 99.0,133.9 113.0,146.9 127.1,154.9 141.2,166.0 169.4,178.9 197.7,186.4 225.9,188.6 254.0,188.9 282.1,188.9" fill="none" stroke="#2e8a90" stroke-opacity="0.32" stroke-width="0.5"/><polyline points="29.7,71.7 56.4,70.5 69.5,97.0 83.8,124.6 98.2,134.9 112.3,147.8 126.4,155.9 140.6,167.1 169.0,180.0 197.5,187.6 225.8,189.8 254.0,190.1 282.1,190.1" fill="none" stroke="#2e8a90" stroke-opacity="0.25" stroke-width="0.5"/><polyline points="29.7,72.9 55.7,71.5 68.5,97.6 82.8,125.3 97.5,135.8 111.6,148.8 125.7,156.9 140.0,168.1 168.6,181.2 197.3,188.7 225.8,191.0 254.0,191.3 282.1,191.3" fill="none" stroke="#2e8a90" stroke-opacity="0.18" stroke-width="0.5"/><polyline points="29.5,61.3 59.2,60.8 74.8,82.9 88.7,111.8 102.2,123.8 116.0,137.6 130.0,146.4 143.9,158.9 171.6,176.6 199.3,190.4 226.9,200.4 254.5,205.5 282.3,207.7" fill="none" stroke="#2e8a90" stroke-opacity="0.18" stroke-width="0.5"/><polyline points="29.5,62.5 58.7,61.9 73.8,83.5 87.7,112.5 101.4,124.7 115.3,138.6 129.2,147.3 143.2,159.9 171.0,177.6 198.8,191.5 226.6,201.5 254.3,206.7 282.2,208.9" fill="none" stroke="#2e8a90" stroke-opacity="0.25" stroke-width="0.5"/><polyline points="29.6,63.7 58.2,63.0 72.7,84.1 86.7,113.1 100.6,125.6 114.5,139.5 128.5,148.3 142.5,160.9 170.4,178.7 198.4,192.6 226.3,202.7 254.2,207.9 282.1,210.1" fill="none" stroke="#2e8a90" stroke-opacity="0.32" stroke-width="0.5"/><polyline points="29.6,66.1 57.1,65.2 70.6,85.3 84.7,114.5 98.9,127.3 113.0,141.4 127.0,150.2 141.1,162.8 169.3,180.7 197.4,194.8 225.6,205.0 253.8,210.3 282.0,212.5" fill="none" stroke="#2e8a90" stroke-opacity="0.32" stroke-width="0.5"/><polyline points="29.7,67.3 56.6,66.3 69.6,85.9 83.7,115.1 98.1,128.2 112.2,142.3 126.3,151.1 140.4,163.8 168.7,181.8 197.0,195.9 225.3,206.2 253.7,211.5 281.9,213.7" fill="none" stroke="#2e8a90" stroke-opacity="0.25" stroke-width="0.5"/><polyline points="29.7,68.5 56.1,67.3 68.5,86.5 82.7,115.8 97.2,129.0 111.5,143.2 125.6,152.1 139.7,164.8 168.1,182.8 196.5,197.0 225.0,207.3 253.5,212.6 281.8,214.9" fill="none" stroke="#2e8a90" stroke-opacity="0.18" stroke-width="0.5"/>
<line x1="29.5" y1="175.3" x2="281.5" y2="175.3" stroke="#e8e4e4" stroke-opacity="0.55" stroke-width="0.6"/>
<polyline points="29.60,75.80 37.90,72.90 50.80,68.40 57.65,67.20 65.20,67.90 72.00,68.90 84.60,71.80 87.20,74.40 91.30,81.30 96.60,87.90 102.60,95.20 107.40,103.90 111.40,109.90 114.60,115.00 117.30,121.90 119.90,127.20 122.30,132.00 124.60,137.30 127.30,143.20 129.30,148.00 133.30,156.60 136.00,161.60 139.90,169.90 145.80,178.00 150.60,185.00 157.90,195.00 161.80,200.90 165.80,205.90 170.70,210.80 175.00,212.30 180.00,214.10 188.30,218.20 196.50,220.70 213.00,223.20 230.00,225.20 240.00,227.00 255.00,229.00 269.90,231.80 281.30,234.20" fill="none" stroke="#9c9696" stroke-width="0.6"/>
<polyline points="29.60,64.91 57.65,64.09 71.68,84.68 85.70,113.79 99.72,126.42 113.75,140.43 127.78,149.21 141.80,161.84 169.85,179.69 197.90,193.70 225.95,203.86 254.00,209.08 282.05,211.27" fill="none" stroke="#2e8a90" stroke-width="0.7"/>
<polyline points="29.60,69.30 57.65,68.48 71.68,95.94 85.70,123.13 99.72,133.01 113.75,145.92 127.78,153.88 141.80,165.00 169.85,177.77 197.90,185.19 225.95,187.38 254.00,187.66 282.05,187.66" fill="none" stroke="#2e8a90" stroke-width="0.7"/>
<polyline points="29.60,77.27 57.65,74.52 71.68,102.53 85.70,126.97 99.72,139.60 113.75,151.14 127.78,160.75 141.80,169.26 169.85,174.39 197.90,180.11 225.95,182.30 254.00,184.36 282.05,185.19" fill="none" stroke="#2e8a90" stroke-width="0.7"/>
<text x="180.8" y="153.9" font-size="6.8" fill="#1a1a1a" stroke="#1a1a1a" stroke-width="0.15" textLength="98" lengthAdjust="spacing">Four illustrative model pathways</text>
<polyline points="281.6,151.9 288.5,151.9 288.5,171" fill="none" stroke="#999" stroke-width="0.6"/>
<polygon points="286.8,169.5 290.2,169.5 288.5,172.3" fill="#999"/>
<text x="283.6" y="185.8" font-size="5.5" font-weight="bold" fill="#2e8a90">P1</text>
<text x="283.6" y="191.4" font-size="5.5" font-weight="bold" fill="#2e8a90">P2</text>
<text x="283.6" y="212.8" font-size="5.5" font-weight="bold" fill="#2e8a90">P3</text>
<text x="283.6" y="236.6" font-size="5.5" font-weight="bold" fill="#777">P4</text>
</svg>
</body></html>
